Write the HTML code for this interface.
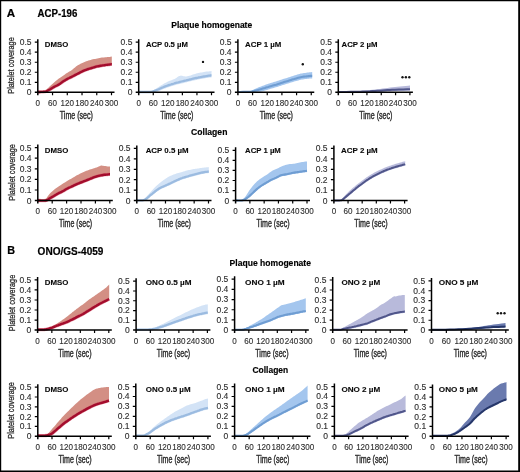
<!DOCTYPE html>
<html><head><meta charset="utf-8"><style>
html,body{margin:0;padding:0;background:#fff;width:520px;height:472px;overflow:hidden}
svg{display:block;will-change:transform}
text{font-family:"Liberation Sans",sans-serif}
</style></head><body>
<svg width="520" height="472" viewBox="0 0 520 472">
<rect width="520" height="472" fill="#fff"/>
<polygon points="37.8,92.0 38.6,92.0 39.7,91.9 40.9,91.9 42.0,91.8 42.8,91.7 43.4,91.7 44.1,91.5 44.9,91.1 45.9,90.3 47.0,89.1 48.2,87.9 49.3,86.7 50.4,85.7 51.5,84.7 52.7,83.7 53.8,82.7 54.9,81.8 56.0,80.8 57.1,80.0 58.2,79.1 59.3,78.3 60.5,77.5 61.6,76.8 62.7,76.0 63.8,75.2 64.9,74.4 66.0,73.6 67.1,72.9 68.2,72.2 69.3,71.6 70.5,70.9 71.6,70.2 72.8,69.3 73.9,68.3 75.0,67.4 76.0,66.6 76.7,66.1 77.2,65.7 77.7,65.3 78.4,64.9 79.4,64.4 80.5,63.8 81.7,63.2 82.9,62.7 84.0,62.2 85.1,61.7 86.2,61.3 87.3,60.9 88.4,60.5 89.5,60.2 90.7,59.9 91.8,59.6 92.9,59.3 94.0,59.1 95.1,58.9 96.2,58.7 97.3,58.5 98.5,58.2 99.6,58.0 100.7,57.8 101.8,57.6 102.9,57.5 104.0,57.4 105.1,57.3 106.3,57.2 107.5,57.1 108.6,57.0 109.6,56.9 110.4,56.8 111.0,56.7 111.5,56.6 111.8,56.5 111.8,64.3 111.5,64.3 111.0,64.4 110.4,64.4 109.6,64.5 108.6,64.6 107.5,64.8 106.3,64.9 105.1,65.1 104.0,65.3 102.9,65.4 101.8,65.6 100.7,65.8 99.6,66.0 98.5,66.2 97.3,66.4 96.2,66.7 95.1,67.0 94.0,67.3 92.9,67.7 91.8,68.0 90.7,68.3 89.5,68.7 88.4,69.0 87.3,69.4 86.2,69.8 85.1,70.2 84.0,70.6 82.9,71.1 81.7,71.7 80.5,72.3 79.4,72.9 78.4,73.4 77.7,73.8 77.2,74.0 76.7,74.2 76.0,74.6 75.0,75.1 73.9,75.7 72.8,76.3 71.6,76.9 70.5,77.4 69.3,78.0 68.2,78.5 67.1,79.1 66.0,79.7 64.9,80.4 63.8,81.1 62.7,81.8 61.6,82.6 60.5,83.4 59.3,84.2 58.2,84.9 57.1,85.5 56.0,86.0 54.9,86.5 53.8,87.1 52.7,87.8 51.5,88.5 50.4,89.2 49.3,89.8 48.3,90.3 47.3,90.8 46.2,91.3 44.9,91.6 43.1,91.7 41.1,91.7 39.1,91.7 37.8,91.7" fill="#d38f84"/>
<polyline points="37.8,92.0 39.1,92.0 41.1,91.9 43.1,91.8 44.9,91.6 46.2,91.3 47.3,90.8 48.3,90.3 49.3,89.8 50.4,89.2 51.5,88.5 52.7,87.8 53.8,87.1 54.9,86.5 56.0,86.0 57.1,85.5 58.2,84.9 59.3,84.2 60.5,83.4 61.6,82.6 62.7,81.8 63.8,81.1 64.9,80.4 66.0,79.7 67.1,79.1 68.2,78.5 69.3,78.0 70.5,77.4 71.6,76.9 72.8,76.3 73.9,75.7 75.0,75.1 76.0,74.6 76.7,74.2 77.2,74.0 77.7,73.8 78.4,73.4 79.4,72.9 80.5,72.3 81.7,71.7 82.9,71.1 84.0,70.6 85.1,70.2 86.2,69.8 87.3,69.4 88.4,69.0 89.5,68.7 90.7,68.3 91.8,68.0 92.9,67.7 94.0,67.3 95.1,67.0 96.2,66.7 97.3,66.4 98.5,66.2 99.6,66.0 100.7,65.8 101.8,65.6 102.9,65.4 104.0,65.3 105.1,65.1 106.3,64.9 107.5,64.8 108.6,64.6 109.6,64.5 110.4,64.4 111.0,64.4 111.5,64.3 111.8,64.3" fill="none" stroke="#d9485f" stroke-width="3.3" stroke-linejoin="round" opacity="0.5"/>
<polyline points="37.8,92.0 39.1,92.0 41.1,91.9 43.1,91.8 44.9,91.6 46.2,91.3 47.3,90.8 48.3,90.3 49.3,89.8 50.4,89.2 51.5,88.5 52.7,87.8 53.8,87.1 54.9,86.5 56.0,86.0 57.1,85.5 58.2,84.9 59.3,84.2 60.5,83.4 61.6,82.6 62.7,81.8 63.8,81.1 64.9,80.4 66.0,79.7 67.1,79.1 68.2,78.5 69.3,78.0 70.5,77.4 71.6,76.9 72.8,76.3 73.9,75.7 75.0,75.1 76.0,74.6 76.7,74.2 77.2,74.0 77.7,73.8 78.4,73.4 79.4,72.9 80.5,72.3 81.7,71.7 82.9,71.1 84.0,70.6 85.1,70.2 86.2,69.8 87.3,69.4 88.4,69.0 89.5,68.7 90.7,68.3 91.8,68.0 92.9,67.7 94.0,67.3 95.1,67.0 96.2,66.7 97.3,66.4 98.5,66.2 99.6,66.0 100.7,65.8 101.8,65.6 102.9,65.4 104.0,65.3 105.1,65.1 106.3,64.9 107.5,64.8 108.6,64.6 109.6,64.5 110.4,64.4 111.0,64.4 111.5,64.3 111.8,64.3" fill="none" stroke="#a30d2d" stroke-width="2.4" stroke-linejoin="round"/>
<path d="M37.80 39.20V95.30M34.80 92.30H114.50" stroke="#000" stroke-width="1.5" fill="none"/>
<path d="M34.80 82.28H37.80M34.80 72.26H37.80M34.80 62.24H37.80M34.80 52.22H37.80M34.80 42.20H37.80M52.54 92.30V95.30M67.28 92.30V95.30M82.02 92.30V95.30M96.76 92.30V95.30M111.50 92.30V95.30" stroke="#000" stroke-width="1.2" fill="none"/>
<text x="31.50" y="95.20" font-size="8.5" fill="#2e2e2e" stroke="#2e2e2e" stroke-width="0.12" text-anchor="end">0</text>
<text x="31.50" y="85.18" font-size="8.5" fill="#2e2e2e" stroke="#2e2e2e" stroke-width="0.12" text-anchor="end">0.1</text>
<text x="31.50" y="75.16" font-size="8.5" fill="#2e2e2e" stroke="#2e2e2e" stroke-width="0.12" text-anchor="end">0.2</text>
<text x="31.50" y="65.14" font-size="8.5" fill="#2e2e2e" stroke="#2e2e2e" stroke-width="0.12" text-anchor="end">0.3</text>
<text x="31.50" y="55.12" font-size="8.5" fill="#2e2e2e" stroke="#2e2e2e" stroke-width="0.12" text-anchor="end">0.4</text>
<text x="31.50" y="45.10" font-size="8.5" fill="#2e2e2e" stroke="#2e2e2e" stroke-width="0.12" text-anchor="end">0.5</text>
<text x="37.80" y="105.70" font-size="8.7" fill="#2e2e2e" stroke="#2e2e2e" stroke-width="0.12" text-anchor="middle" textLength="4.50" lengthAdjust="spacingAndGlyphs">0</text>
<text x="52.54" y="105.70" font-size="8.7" fill="#2e2e2e" stroke="#2e2e2e" stroke-width="0.12" text-anchor="middle" textLength="9.00" lengthAdjust="spacingAndGlyphs">60</text>
<text x="67.28" y="105.70" font-size="8.7" fill="#2e2e2e" stroke="#2e2e2e" stroke-width="0.12" text-anchor="middle" textLength="13.50" lengthAdjust="spacingAndGlyphs">120</text>
<text x="82.02" y="105.70" font-size="8.7" fill="#2e2e2e" stroke="#2e2e2e" stroke-width="0.12" text-anchor="middle" textLength="13.50" lengthAdjust="spacingAndGlyphs">180</text>
<text x="96.76" y="105.70" font-size="8.7" fill="#2e2e2e" stroke="#2e2e2e" stroke-width="0.12" text-anchor="middle" textLength="13.50" lengthAdjust="spacingAndGlyphs">240</text>
<text x="111.50" y="105.70" font-size="8.7" fill="#2e2e2e" stroke="#2e2e2e" stroke-width="0.12" text-anchor="middle" textLength="13.50" lengthAdjust="spacingAndGlyphs">300</text>
<text x="59.75" y="119.10" font-size="10.2" fill="#2e2e2e" stroke="#2e2e2e" stroke-width="0.42" textLength="33.2" lengthAdjust="spacingAndGlyphs">Time (sec)</text>
<text x="44.80" y="46.70" font-size="8" font-weight="bold" fill="#0a0a0a" stroke="#0a0a0a" stroke-width="0.12" textLength="23.4" lengthAdjust="spacingAndGlyphs">DMSO</text>
<polygon points="138.7,92.0 140.5,92.0 143.1,91.9 145.8,91.9 148.0,91.8 149.4,91.7 150.4,91.5 151.2,91.3 152.0,91.0 152.8,90.6 153.6,90.2 154.3,89.8 155.2,89.2 156.2,88.5 157.4,87.8 158.6,87.0 159.7,86.3 160.8,85.6 161.9,84.9 163.0,84.2 164.1,83.6 165.2,83.0 166.3,82.4 167.5,81.8 168.6,81.3 169.7,80.8 170.9,80.4 172.0,80.0 173.0,79.6 173.9,79.2 174.6,78.9 175.3,78.6 176.0,78.2 176.6,77.8 177.2,77.3 177.8,76.8 178.4,76.4 179.0,76.1 179.7,75.9 180.4,75.7 181.0,75.6 181.6,75.7 182.2,75.8 182.8,76.1 183.5,76.2 184.3,76.3 185.3,76.4 186.3,76.4 187.3,76.3 188.4,76.1 189.5,75.7 190.7,75.4 191.8,75.0 192.9,74.6 194.0,74.3 195.1,73.9 196.2,73.6 197.3,73.3 198.4,73.1 199.6,72.8 200.7,72.6 201.8,72.4 202.9,72.2 204.0,72.0 205.1,71.8 206.3,71.6 207.5,71.5 208.7,71.4 209.6,71.3 210.3,71.2 210.8,71.2 211.2,71.1 211.5,71.1 211.5,77.4 211.2,77.4 210.8,77.5 210.3,77.5 209.6,77.6 208.7,77.7 207.5,77.9 206.3,78.1 205.1,78.3 204.0,78.5 202.9,78.7 201.8,78.9 200.7,79.1 199.6,79.3 198.4,79.5 197.3,79.8 196.2,80.0 195.1,80.2 194.0,80.5 192.9,80.7 191.8,81.0 190.7,81.3 189.6,81.5 188.4,81.8 187.3,82.1 186.2,82.4 185.2,82.6 184.1,82.9 182.9,83.2 181.5,83.5 179.9,83.9 178.4,84.3 177.0,84.6 175.9,84.9 174.9,85.2 174.0,85.5 173.0,85.8 171.9,86.1 170.8,86.5 169.7,86.8 168.6,87.2 167.5,87.6 166.3,88.0 165.2,88.4 164.1,88.8 163.0,89.3 161.9,89.7 160.8,90.2 159.7,90.7 158.6,91.2 157.4,91.7 156.2,91.7 155.2,91.7 154.3,91.7 153.4,91.7 152.7,91.7 152.0,91.7 151.6,91.7 151.5,91.7 151.1,91.7 150.0,91.7 147.6,91.7 144.2,91.7 140.9,91.7 138.7,91.7" fill="#d3e3f6"/>
<polyline points="138.7,92.0 140.9,92.0 144.2,92.0 147.6,92.0 150.0,92.0 151.1,92.0 151.5,91.9 151.6,91.8 152.0,91.7 152.7,91.5 153.4,91.2 154.3,91.0 155.2,90.6 156.2,90.2 157.4,89.7 158.6,89.2 159.7,88.7 160.8,88.2 161.9,87.7 163.0,87.3 164.1,86.8 165.2,86.4 166.3,86.0 167.5,85.6 168.6,85.2 169.7,84.8 170.8,84.5 171.9,84.1 173.0,83.8 174.0,83.5 174.9,83.2 175.9,82.9 177.0,82.6 178.4,82.3 179.9,81.9 181.5,81.5 182.9,81.2 184.1,80.9 185.2,80.6 186.2,80.4 187.3,80.1 188.4,79.8 189.6,79.5 190.7,79.3 191.8,79.0 192.9,78.7 194.0,78.5 195.1,78.2 196.2,78.0 197.3,77.8 198.4,77.5 199.6,77.3 200.7,77.1 201.8,76.9 202.9,76.7 204.0,76.5 205.1,76.3 206.3,76.1 207.5,75.9 208.7,75.7 209.6,75.6 210.3,75.5 210.8,75.5 211.2,75.4 211.5,75.4" fill="none" stroke="#9bbbe0" stroke-width="2.3" stroke-linejoin="round"/>
<path d="M138.70 39.20V95.30M135.70 92.30H214.50" stroke="#000" stroke-width="1.5" fill="none"/>
<path d="M135.70 82.28H138.70M135.70 72.26H138.70M135.70 62.24H138.70M135.70 52.22H138.70M135.70 42.20H138.70M153.26 92.30V95.30M167.82 92.30V95.30M182.38 92.30V95.30M196.94 92.30V95.30M211.50 92.30V95.30" stroke="#000" stroke-width="1.2" fill="none"/>
<text x="132.40" y="95.20" font-size="8.5" fill="#2e2e2e" stroke="#2e2e2e" stroke-width="0.12" text-anchor="end">0</text>
<text x="132.40" y="85.18" font-size="8.5" fill="#2e2e2e" stroke="#2e2e2e" stroke-width="0.12" text-anchor="end">0.1</text>
<text x="132.40" y="75.16" font-size="8.5" fill="#2e2e2e" stroke="#2e2e2e" stroke-width="0.12" text-anchor="end">0.2</text>
<text x="132.40" y="65.14" font-size="8.5" fill="#2e2e2e" stroke="#2e2e2e" stroke-width="0.12" text-anchor="end">0.3</text>
<text x="132.40" y="55.12" font-size="8.5" fill="#2e2e2e" stroke="#2e2e2e" stroke-width="0.12" text-anchor="end">0.4</text>
<text x="132.40" y="45.10" font-size="8.5" fill="#2e2e2e" stroke="#2e2e2e" stroke-width="0.12" text-anchor="end">0.5</text>
<text x="138.70" y="105.70" font-size="8.7" fill="#2e2e2e" stroke="#2e2e2e" stroke-width="0.12" text-anchor="middle" textLength="4.50" lengthAdjust="spacingAndGlyphs">0</text>
<text x="153.26" y="105.70" font-size="8.7" fill="#2e2e2e" stroke="#2e2e2e" stroke-width="0.12" text-anchor="middle" textLength="9.00" lengthAdjust="spacingAndGlyphs">60</text>
<text x="167.82" y="105.70" font-size="8.7" fill="#2e2e2e" stroke="#2e2e2e" stroke-width="0.12" text-anchor="middle" textLength="13.50" lengthAdjust="spacingAndGlyphs">120</text>
<text x="182.38" y="105.70" font-size="8.7" fill="#2e2e2e" stroke="#2e2e2e" stroke-width="0.12" text-anchor="middle" textLength="13.50" lengthAdjust="spacingAndGlyphs">180</text>
<text x="196.94" y="105.70" font-size="8.7" fill="#2e2e2e" stroke="#2e2e2e" stroke-width="0.12" text-anchor="middle" textLength="13.50" lengthAdjust="spacingAndGlyphs">240</text>
<text x="211.50" y="105.70" font-size="8.7" fill="#2e2e2e" stroke="#2e2e2e" stroke-width="0.12" text-anchor="middle" textLength="13.50" lengthAdjust="spacingAndGlyphs">300</text>
<text x="160.20" y="119.10" font-size="10.2" fill="#2e2e2e" stroke="#2e2e2e" stroke-width="0.42" textLength="33.2" lengthAdjust="spacingAndGlyphs">Time (sec)</text>
<text x="145.90" y="46.70" font-size="8" font-weight="bold" fill="#0a0a0a" stroke="#0a0a0a" stroke-width="0.12" textLength="42.0" lengthAdjust="spacingAndGlyphs">ACP 0.5 µM</text>
<polygon points="237.9,92.0 239.2,92.0 241.2,92.0 243.3,92.0 245.0,91.9 246.3,91.8 247.3,91.8 248.3,91.6 249.3,91.4 250.4,91.0 251.5,90.5 252.7,89.9 253.8,89.4 254.9,88.9 256.0,88.5 257.1,88.0 258.2,87.6 259.3,87.1 260.4,86.7 261.6,86.2 262.7,85.8 263.8,85.4 264.9,85.0 266.0,84.6 267.1,84.2 268.2,83.8 269.4,83.4 270.5,83.1 271.6,82.7 272.7,82.4 273.8,82.0 274.9,81.7 276.0,81.4 277.0,81.1 278.0,80.8 279.0,80.4 280.0,80.1 281.0,79.8 282.0,79.4 283.0,79.1 284.0,78.8 285.0,78.5 286.0,78.2 287.0,77.9 288.0,77.6 289.0,77.3 290.0,77.0 291.0,76.6 292.0,76.3 293.0,76.0 294.1,75.6 295.1,75.2 296.2,74.9 297.3,74.6 298.4,74.2 299.6,73.9 300.7,73.6 301.8,73.4 302.9,73.2 304.0,73.1 305.1,72.9 306.3,72.7 307.5,72.6 308.6,72.4 309.6,72.3 310.4,72.2 311.2,72.2 311.8,72.1 312.2,72.1 312.2,78.5 311.8,78.5 311.2,78.5 310.4,78.5 309.6,78.6 308.6,78.7 307.5,78.8 306.3,79.0 305.1,79.1 304.0,79.2 302.9,79.4 301.8,79.6 300.7,79.8 299.6,80.1 298.4,80.4 297.3,80.7 296.2,81.0 295.1,81.3 294.1,81.6 293.0,81.9 292.0,82.2 291.0,82.5 290.0,82.8 289.0,83.2 288.0,83.5 287.0,83.8 286.0,84.1 285.0,84.4 284.0,84.7 283.0,85.0 282.0,85.3 281.0,85.7 280.0,86.0 279.0,86.3 278.0,86.7 277.0,87.0 276.0,87.3 274.9,87.6 273.8,87.9 272.7,88.2 271.6,88.5 270.5,88.8 269.4,89.2 268.2,89.6 267.1,89.9 266.0,90.2 264.9,90.6 263.8,90.9 262.7,91.2 261.6,91.5 260.4,91.7 259.3,91.7 258.2,91.7 257.1,91.7 256.0,91.7 254.9,91.7 253.8,91.7 252.8,91.7 252.0,91.7 250.9,91.7 249.3,91.7 246.7,91.7 243.3,91.7 240.1,91.7 237.9,91.7" fill="#a4c6ee"/>
<polyline points="237.9,92.0 240.1,92.0 243.3,91.9 246.7,91.9 249.3,91.8 250.9,91.7 252.0,91.5 252.8,91.3 253.8,91.1 254.9,90.8 256.0,90.5 257.1,90.2 258.2,89.9 259.3,89.6 260.4,89.3 261.6,88.9 262.7,88.6 263.8,88.3 264.9,88.0 266.0,87.6 267.1,87.3 268.2,87.0 269.4,86.6 270.5,86.2 271.6,85.9 272.7,85.6 273.8,85.3 274.9,85.0 276.0,84.7 277.0,84.4 278.0,84.1 279.0,83.7 280.0,83.4 281.0,83.1 282.0,82.7 283.0,82.4 284.0,82.1 285.0,81.8 286.0,81.5 287.0,81.2 288.0,80.9 289.0,80.6 290.0,80.2 291.0,79.9 292.0,79.6 293.0,79.3 294.1,79.0 295.1,78.7 296.2,78.4 297.3,78.1 298.4,77.8 299.6,77.5 300.7,77.2 301.8,77.0 302.9,76.8 304.0,76.6 305.1,76.5 306.3,76.4 307.5,76.2 308.6,76.1 309.6,76.0 310.4,75.9 311.2,75.9 311.8,75.9 312.2,75.9" fill="none" stroke="#6f9dd2" stroke-width="2.1" stroke-linejoin="round"/>
<path d="M237.90 39.20V95.30M234.90 92.30H314.25" stroke="#000" stroke-width="1.5" fill="none"/>
<path d="M234.90 82.28H237.90M234.90 72.26H237.90M234.90 62.24H237.90M234.90 52.22H237.90M234.90 42.20H237.90M252.57 92.30V95.30M267.24 92.30V95.30M281.91 92.30V95.30M296.58 92.30V95.30M311.25 92.30V95.30" stroke="#000" stroke-width="1.2" fill="none"/>
<text x="231.60" y="95.20" font-size="8.5" fill="#2e2e2e" stroke="#2e2e2e" stroke-width="0.12" text-anchor="end">0</text>
<text x="231.60" y="85.18" font-size="8.5" fill="#2e2e2e" stroke="#2e2e2e" stroke-width="0.12" text-anchor="end">0.1</text>
<text x="231.60" y="75.16" font-size="8.5" fill="#2e2e2e" stroke="#2e2e2e" stroke-width="0.12" text-anchor="end">0.2</text>
<text x="231.60" y="65.14" font-size="8.5" fill="#2e2e2e" stroke="#2e2e2e" stroke-width="0.12" text-anchor="end">0.3</text>
<text x="231.60" y="55.12" font-size="8.5" fill="#2e2e2e" stroke="#2e2e2e" stroke-width="0.12" text-anchor="end">0.4</text>
<text x="231.60" y="45.10" font-size="8.5" fill="#2e2e2e" stroke="#2e2e2e" stroke-width="0.12" text-anchor="end">0.5</text>
<text x="237.90" y="105.70" font-size="8.7" fill="#2e2e2e" stroke="#2e2e2e" stroke-width="0.12" text-anchor="middle" textLength="4.50" lengthAdjust="spacingAndGlyphs">0</text>
<text x="252.57" y="105.70" font-size="8.7" fill="#2e2e2e" stroke="#2e2e2e" stroke-width="0.12" text-anchor="middle" textLength="9.00" lengthAdjust="spacingAndGlyphs">60</text>
<text x="267.24" y="105.70" font-size="8.7" fill="#2e2e2e" stroke="#2e2e2e" stroke-width="0.12" text-anchor="middle" textLength="13.50" lengthAdjust="spacingAndGlyphs">120</text>
<text x="281.91" y="105.70" font-size="8.7" fill="#2e2e2e" stroke="#2e2e2e" stroke-width="0.12" text-anchor="middle" textLength="13.50" lengthAdjust="spacingAndGlyphs">180</text>
<text x="296.58" y="105.70" font-size="8.7" fill="#2e2e2e" stroke="#2e2e2e" stroke-width="0.12" text-anchor="middle" textLength="13.50" lengthAdjust="spacingAndGlyphs">240</text>
<text x="311.25" y="105.70" font-size="8.7" fill="#2e2e2e" stroke="#2e2e2e" stroke-width="0.12" text-anchor="middle" textLength="13.50" lengthAdjust="spacingAndGlyphs">300</text>
<text x="259.68" y="119.10" font-size="10.2" fill="#2e2e2e" stroke="#2e2e2e" stroke-width="0.42" textLength="33.2" lengthAdjust="spacingAndGlyphs">Time (sec)</text>
<text x="245.10" y="46.70" font-size="8" font-weight="bold" fill="#0a0a0a" stroke="#0a0a0a" stroke-width="0.12" textLength="36.3" lengthAdjust="spacingAndGlyphs">ACP 1 µM</text>
<polygon points="338.3,91.9 340.4,91.8 343.5,91.7 346.9,91.6 350.0,91.5 352.6,91.4 355.1,91.2 357.5,91.1 360.0,90.9 362.5,90.7 365.0,90.5 367.5,90.2 370.0,90.0 372.5,89.7 375.0,89.5 377.5,89.2 380.0,88.9 382.5,88.6 385.0,88.3 387.5,87.9 390.0,87.6 392.5,87.3 395.0,87.0 397.5,86.8 400.0,86.5 402.7,86.2 405.6,86.0 408.2,85.8 410.0,85.6 410.0,90.6 407.2,90.7 403.1,90.8 398.8,91.0 395.0,91.1 392.1,91.2 389.7,91.4 387.4,91.5 385.0,91.7 382.5,91.7 380.0,91.7 377.5,91.7 375.0,91.7 372.5,91.7 370.0,91.7 367.5,91.7 365.0,91.7 362.7,91.7 360.4,91.7 358.0,91.7 355.0,91.7 350.9,91.7 346.0,91.7 341.5,91.7 338.3,91.7" fill="#b8badb"/>
<polyline points="338.3,91.9 341.5,91.9 346.0,91.9 350.9,91.8 355.0,91.8 358.0,91.7 360.4,91.7 362.7,91.6 365.0,91.5 367.5,91.4 370.0,91.3 372.5,91.1 375.0,91.0 377.5,90.8 380.0,90.7 382.5,90.5 385.0,90.3 387.4,90.1 389.7,90.0 392.1,89.8 395.0,89.7 398.8,89.6 403.1,89.4 407.2,89.3 410.0,89.2" fill="none" stroke="#50568a" stroke-width="2.0" stroke-linejoin="round"/>
<path d="M338.30 39.20V95.30M335.30 92.30H412.90" stroke="#000" stroke-width="1.5" fill="none"/>
<path d="M335.30 82.28H338.30M335.30 72.26H338.30M335.30 62.24H338.30M335.30 52.22H338.30M335.30 42.20H338.30M352.62 92.30V95.30M366.94 92.30V95.30M381.26 92.30V95.30M395.58 92.30V95.30M409.90 92.30V95.30" stroke="#000" stroke-width="1.2" fill="none"/>
<text x="332.00" y="95.20" font-size="8.5" fill="#2e2e2e" stroke="#2e2e2e" stroke-width="0.12" text-anchor="end">0</text>
<text x="332.00" y="85.18" font-size="8.5" fill="#2e2e2e" stroke="#2e2e2e" stroke-width="0.12" text-anchor="end">0.1</text>
<text x="332.00" y="75.16" font-size="8.5" fill="#2e2e2e" stroke="#2e2e2e" stroke-width="0.12" text-anchor="end">0.2</text>
<text x="332.00" y="65.14" font-size="8.5" fill="#2e2e2e" stroke="#2e2e2e" stroke-width="0.12" text-anchor="end">0.3</text>
<text x="332.00" y="55.12" font-size="8.5" fill="#2e2e2e" stroke="#2e2e2e" stroke-width="0.12" text-anchor="end">0.4</text>
<text x="332.00" y="45.10" font-size="8.5" fill="#2e2e2e" stroke="#2e2e2e" stroke-width="0.12" text-anchor="end">0.5</text>
<text x="338.30" y="105.70" font-size="8.7" fill="#2e2e2e" stroke="#2e2e2e" stroke-width="0.12" text-anchor="middle" textLength="4.50" lengthAdjust="spacingAndGlyphs">0</text>
<text x="352.62" y="105.70" font-size="8.7" fill="#2e2e2e" stroke="#2e2e2e" stroke-width="0.12" text-anchor="middle" textLength="9.00" lengthAdjust="spacingAndGlyphs">60</text>
<text x="366.94" y="105.70" font-size="8.7" fill="#2e2e2e" stroke="#2e2e2e" stroke-width="0.12" text-anchor="middle" textLength="13.50" lengthAdjust="spacingAndGlyphs">120</text>
<text x="381.26" y="105.70" font-size="8.7" fill="#2e2e2e" stroke="#2e2e2e" stroke-width="0.12" text-anchor="middle" textLength="13.50" lengthAdjust="spacingAndGlyphs">180</text>
<text x="395.58" y="105.70" font-size="8.7" fill="#2e2e2e" stroke="#2e2e2e" stroke-width="0.12" text-anchor="middle" textLength="13.50" lengthAdjust="spacingAndGlyphs">240</text>
<text x="409.90" y="105.70" font-size="8.7" fill="#2e2e2e" stroke="#2e2e2e" stroke-width="0.12" text-anchor="middle" textLength="13.50" lengthAdjust="spacingAndGlyphs">300</text>
<text x="359.20" y="119.10" font-size="10.2" fill="#2e2e2e" stroke="#2e2e2e" stroke-width="0.42" textLength="33.2" lengthAdjust="spacingAndGlyphs">Time (sec)</text>
<text x="341.60" y="46.70" font-size="8" font-weight="bold" fill="#0a0a0a" stroke="#0a0a0a" stroke-width="0.12" textLength="36.0" lengthAdjust="spacingAndGlyphs">ACP 2 µM</text>
<text transform="translate(14.30 65.50) rotate(-90)" font-size="9" fill="#2e2e2e" stroke="#2e2e2e" stroke-width="0.3" text-anchor="middle" textLength="56.5" lengthAdjust="spacingAndGlyphs">Platelet coverage</text>
<polygon points="37.8,200.5 38.8,200.5 40.2,200.4 41.7,200.4 43.0,200.2 43.9,200.0 44.5,199.8 45.1,199.4 45.8,198.8 46.6,197.9 47.4,196.7 48.3,195.4 49.3,194.2 50.4,193.1 51.5,192.0 52.7,191.0 53.8,190.0 54.9,189.1 56.0,188.3 57.1,187.6 58.2,186.8 59.3,186.0 60.5,185.3 61.6,184.5 62.7,183.8 63.8,183.1 64.9,182.4 66.0,181.7 67.1,181.0 68.3,180.3 69.5,179.6 70.8,179.0 72.0,178.3 73.1,177.6 74.2,176.9 75.3,176.2 76.4,175.6 77.5,175.0 78.7,174.4 79.8,173.8 80.9,173.3 82.0,172.8 83.1,172.3 84.2,171.8 85.3,171.3 86.4,170.8 87.5,170.4 88.7,170.0 89.8,169.6 90.9,169.2 92.0,168.9 93.1,168.6 94.2,168.2 95.4,167.8 96.6,167.4 97.7,167.0 98.7,166.6 99.4,166.3 100.0,166.0 100.5,165.8 101.0,165.6 101.5,165.6 101.9,165.6 102.4,165.7 103.1,165.8 104.1,165.9 105.3,166.1 106.6,166.3 107.6,166.4 108.4,166.5 109.1,166.5 109.6,166.6 110.0,166.6 110.0,174.3 109.6,174.3 109.1,174.4 108.4,174.4 107.6,174.5 106.6,174.6 105.5,174.7 104.3,174.8 103.1,175.0 102.0,175.2 100.9,175.4 99.8,175.6 98.7,175.9 97.6,176.2 96.5,176.5 95.3,176.8 94.2,177.2 93.1,177.6 92.0,178.1 90.9,178.5 89.8,179.0 88.7,179.5 87.5,179.9 86.4,180.4 85.3,180.8 84.2,181.2 83.1,181.7 82.0,182.1 80.9,182.5 79.8,182.9 78.7,183.4 77.5,183.8 76.4,184.3 75.3,184.8 74.2,185.3 73.1,185.9 72.0,186.4 70.8,187.0 69.5,187.5 68.3,188.1 67.1,188.7 66.0,189.3 64.9,190.0 63.8,190.7 62.7,191.3 61.6,191.9 60.5,192.4 59.3,192.9 58.2,193.5 57.1,194.1 56.0,194.8 54.9,195.4 53.8,196.1 52.7,196.7 51.5,197.4 50.4,198.0 49.3,198.6 48.5,199.2 47.8,199.7 47.0,200.0 45.8,200.0 43.9,200.0 41.6,200.0 39.3,200.0 37.8,200.0" fill="#d38f84"/>
<polyline points="37.8,200.5 39.3,200.5 41.6,200.6 43.9,200.6 45.8,200.5 47.0,200.2 47.8,199.7 48.5,199.2 49.3,198.6 50.4,198.0 51.5,197.4 52.7,196.7 53.8,196.1 54.9,195.4 56.0,194.8 57.1,194.1 58.2,193.5 59.3,192.9 60.5,192.4 61.6,191.9 62.7,191.3 63.8,190.7 64.9,190.0 66.0,189.3 67.1,188.7 68.3,188.1 69.5,187.5 70.8,187.0 72.0,186.4 73.1,185.9 74.2,185.3 75.3,184.8 76.4,184.3 77.5,183.8 78.7,183.4 79.8,182.9 80.9,182.5 82.0,182.1 83.1,181.7 84.2,181.2 85.3,180.8 86.4,180.4 87.5,179.9 88.7,179.5 89.8,179.0 90.9,178.5 92.0,178.1 93.1,177.6 94.2,177.2 95.3,176.8 96.5,176.5 97.6,176.2 98.7,175.9 99.8,175.6 100.9,175.4 102.0,175.2 103.1,175.0 104.3,174.8 105.5,174.7 106.6,174.6 107.6,174.5 108.4,174.4 109.1,174.4 109.6,174.3 110.0,174.3" fill="none" stroke="#d9485f" stroke-width="3.3" stroke-linejoin="round" opacity="0.5"/>
<polyline points="37.8,200.5 39.3,200.5 41.6,200.6 43.9,200.6 45.8,200.5 47.0,200.2 47.8,199.7 48.5,199.2 49.3,198.6 50.4,198.0 51.5,197.4 52.7,196.7 53.8,196.1 54.9,195.4 56.0,194.8 57.1,194.1 58.2,193.5 59.3,192.9 60.5,192.4 61.6,191.9 62.7,191.3 63.8,190.7 64.9,190.0 66.0,189.3 67.1,188.7 68.3,188.1 69.5,187.5 70.8,187.0 72.0,186.4 73.1,185.9 74.2,185.3 75.3,184.8 76.4,184.3 77.5,183.8 78.7,183.4 79.8,182.9 80.9,182.5 82.0,182.1 83.1,181.7 84.2,181.2 85.3,180.8 86.4,180.4 87.5,179.9 88.7,179.5 89.8,179.0 90.9,178.5 92.0,178.1 93.1,177.6 94.2,177.2 95.3,176.8 96.5,176.5 97.6,176.2 98.7,175.9 99.8,175.6 100.9,175.4 102.0,175.2 103.1,175.0 104.3,174.8 105.5,174.7 106.6,174.6 107.6,174.5 108.4,174.4 109.1,174.4 109.6,174.3 110.0,174.3" fill="none" stroke="#a30d2d" stroke-width="2.4" stroke-linejoin="round"/>
<path d="M37.80 144.60V203.60M34.80 200.60H112.80" stroke="#000" stroke-width="1.5" fill="none"/>
<path d="M34.80 190.00H37.80M34.80 179.40H37.80M34.80 168.80H37.80M34.80 158.20H37.80M34.80 147.60H37.80M52.20 200.60V203.60M66.60 200.60V203.60M81.00 200.60V203.60M95.40 200.60V203.60M109.80 200.60V203.60" stroke="#000" stroke-width="1.2" fill="none"/>
<text x="31.50" y="203.50" font-size="8.5" fill="#2e2e2e" stroke="#2e2e2e" stroke-width="0.12" text-anchor="end">0</text>
<text x="31.50" y="192.90" font-size="8.5" fill="#2e2e2e" stroke="#2e2e2e" stroke-width="0.12" text-anchor="end">0.1</text>
<text x="31.50" y="182.30" font-size="8.5" fill="#2e2e2e" stroke="#2e2e2e" stroke-width="0.12" text-anchor="end">0.2</text>
<text x="31.50" y="171.70" font-size="8.5" fill="#2e2e2e" stroke="#2e2e2e" stroke-width="0.12" text-anchor="end">0.3</text>
<text x="31.50" y="161.10" font-size="8.5" fill="#2e2e2e" stroke="#2e2e2e" stroke-width="0.12" text-anchor="end">0.4</text>
<text x="31.50" y="150.50" font-size="8.5" fill="#2e2e2e" stroke="#2e2e2e" stroke-width="0.12" text-anchor="end">0.5</text>
<text x="37.80" y="214.00" font-size="8.7" fill="#2e2e2e" stroke="#2e2e2e" stroke-width="0.12" text-anchor="middle" textLength="4.50" lengthAdjust="spacingAndGlyphs">0</text>
<text x="52.20" y="214.00" font-size="8.7" fill="#2e2e2e" stroke="#2e2e2e" stroke-width="0.12" text-anchor="middle" textLength="9.00" lengthAdjust="spacingAndGlyphs">60</text>
<text x="66.60" y="214.00" font-size="8.7" fill="#2e2e2e" stroke="#2e2e2e" stroke-width="0.12" text-anchor="middle" textLength="13.50" lengthAdjust="spacingAndGlyphs">120</text>
<text x="81.00" y="214.00" font-size="8.7" fill="#2e2e2e" stroke="#2e2e2e" stroke-width="0.12" text-anchor="middle" textLength="13.50" lengthAdjust="spacingAndGlyphs">180</text>
<text x="95.40" y="214.00" font-size="8.7" fill="#2e2e2e" stroke="#2e2e2e" stroke-width="0.12" text-anchor="middle" textLength="13.50" lengthAdjust="spacingAndGlyphs">240</text>
<text x="109.80" y="214.00" font-size="8.7" fill="#2e2e2e" stroke="#2e2e2e" stroke-width="0.12" text-anchor="middle" textLength="13.50" lengthAdjust="spacingAndGlyphs">300</text>
<text x="58.90" y="227.40" font-size="10.2" fill="#2e2e2e" stroke="#2e2e2e" stroke-width="0.42" textLength="33.2" lengthAdjust="spacingAndGlyphs">Time (sec)</text>
<text x="44.80" y="152.70" font-size="8" font-weight="bold" fill="#0a0a0a" stroke="#0a0a0a" stroke-width="0.12" textLength="23.5" lengthAdjust="spacingAndGlyphs">DMSO</text>
<polygon points="136.8,200.4 137.5,200.4 138.4,200.4 139.5,200.3 140.5,200.2 141.4,200.0 142.4,199.8 143.3,199.4 144.2,199.0 144.9,198.4 145.6,197.7 146.3,196.8 147.0,196.0 147.8,195.1 148.7,194.2 149.5,193.2 150.4,192.2 151.3,191.2 152.2,190.2 153.1,189.2 154.0,188.2 155.0,187.2 156.0,186.2 157.1,185.3 158.1,184.4 159.1,183.6 160.1,182.8 161.0,182.0 162.0,181.3 163.0,180.6 163.9,179.8 164.9,179.2 165.8,178.5 166.7,177.9 167.7,177.3 168.6,176.8 169.6,176.3 170.6,175.8 171.5,175.4 172.5,175.0 173.5,174.6 174.5,174.2 175.4,173.9 176.3,173.6 177.3,173.3 178.3,173.0 179.3,172.7 180.2,172.5 181.2,172.2 182.2,171.9 183.1,171.6 184.1,171.4 185.0,171.1 185.9,170.8 186.9,170.6 187.8,170.3 188.8,170.1 189.8,169.9 190.8,169.7 191.7,169.5 192.7,169.3 193.7,169.1 194.6,169.0 195.5,168.8 196.5,168.7 197.5,168.5 198.4,168.4 199.4,168.2 200.4,168.1 201.3,168.0 202.3,167.8 203.2,167.7 204.2,167.6 205.4,167.5 206.7,167.3 208.0,167.2 208.8,167.1 208.8,173.1 208.0,173.2 206.7,173.3 205.4,173.5 204.2,173.7 203.2,173.9 202.3,174.1 201.3,174.3 200.4,174.5 199.4,174.7 198.4,174.9 197.5,175.2 196.5,175.4 195.5,175.7 194.6,175.9 193.7,176.2 192.7,176.5 191.7,176.8 190.8,177.0 189.8,177.3 188.8,177.6 187.8,177.9 186.9,178.1 185.9,178.4 185.0,178.7 184.1,179.0 183.1,179.3 182.2,179.6 181.2,179.9 180.2,180.3 179.3,180.7 178.3,181.2 177.3,181.6 176.3,182.0 175.4,182.5 174.5,182.9 173.5,183.4 172.5,183.8 171.5,184.3 170.6,184.8 169.6,185.2 168.6,185.7 167.7,186.1 166.7,186.6 165.8,187.0 164.9,187.4 163.9,187.8 163.0,188.2 162.0,188.6 161.0,189.1 160.1,189.6 159.1,190.2 158.1,190.8 157.1,191.5 156.0,192.3 155.0,193.1 154.0,193.9 153.1,194.6 152.2,195.4 151.3,196.1 150.4,196.8 149.5,197.6 148.6,198.4 147.8,199.1 147.0,199.8 146.3,200.0 145.7,200.0 145.1,200.0 144.5,200.0 144.1,200.0 143.7,200.0 143.2,200.0 142.5,200.0 141.2,200.0 139.5,200.0 137.9,200.0 136.8,200.0" fill="#d3e3f6"/>
<polyline points="136.8,200.4 137.9,200.4 139.5,200.4 141.2,200.4 142.5,200.3 143.2,200.2 143.7,200.1 144.1,200.0 144.5,199.8 145.1,199.5 145.7,199.2 146.3,198.7 147.0,198.2 147.8,197.5 148.6,196.8 149.5,196.0 150.4,195.2 151.3,194.5 152.2,193.8 153.1,193.0 154.0,192.3 155.0,191.5 156.0,190.7 157.1,189.9 158.1,189.2 159.1,188.6 160.1,188.0 161.0,187.5 162.0,187.0 163.0,186.6 163.9,186.2 164.9,185.8 165.8,185.4 166.7,185.0 167.7,184.5 168.6,184.1 169.6,183.6 170.6,183.2 171.5,182.7 172.5,182.2 173.5,181.8 174.5,181.3 175.4,180.9 176.3,180.4 177.3,180.0 178.3,179.6 179.3,179.1 180.2,178.7 181.2,178.3 182.2,178.0 183.1,177.7 184.1,177.4 185.0,177.1 185.9,176.8 186.9,176.5 187.8,176.3 188.8,176.0 189.8,175.7 190.8,175.4 191.7,175.2 192.7,174.9 193.7,174.6 194.6,174.3 195.5,174.1 196.5,173.8 197.5,173.6 198.4,173.3 199.4,173.1 200.4,172.9 201.3,172.7 202.3,172.5 203.2,172.3 204.2,172.1 205.4,171.9 206.7,171.8 208.0,171.6 208.8,171.5" fill="none" stroke="#9bbbe0" stroke-width="2.3" stroke-linejoin="round"/>
<path d="M136.80 145.40V203.60M133.80 200.60H211.50" stroke="#000" stroke-width="1.5" fill="none"/>
<path d="M133.80 190.16H136.80M133.80 179.72H136.80M133.80 169.28H136.80M133.80 158.84H136.80M133.80 148.40H136.80M151.14 200.60V203.60M165.48 200.60V203.60M179.82 200.60V203.60M194.16 200.60V203.60M208.50 200.60V203.60" stroke="#000" stroke-width="1.2" fill="none"/>
<text x="130.50" y="203.50" font-size="8.5" fill="#2e2e2e" stroke="#2e2e2e" stroke-width="0.12" text-anchor="end">0</text>
<text x="130.50" y="193.06" font-size="8.5" fill="#2e2e2e" stroke="#2e2e2e" stroke-width="0.12" text-anchor="end">0.1</text>
<text x="130.50" y="182.62" font-size="8.5" fill="#2e2e2e" stroke="#2e2e2e" stroke-width="0.12" text-anchor="end">0.2</text>
<text x="130.50" y="172.18" font-size="8.5" fill="#2e2e2e" stroke="#2e2e2e" stroke-width="0.12" text-anchor="end">0.3</text>
<text x="130.50" y="161.74" font-size="8.5" fill="#2e2e2e" stroke="#2e2e2e" stroke-width="0.12" text-anchor="end">0.4</text>
<text x="130.50" y="151.30" font-size="8.5" fill="#2e2e2e" stroke="#2e2e2e" stroke-width="0.12" text-anchor="end">0.5</text>
<text x="136.80" y="214.00" font-size="8.7" fill="#2e2e2e" stroke="#2e2e2e" stroke-width="0.12" text-anchor="middle" textLength="4.50" lengthAdjust="spacingAndGlyphs">0</text>
<text x="151.14" y="214.00" font-size="8.7" fill="#2e2e2e" stroke="#2e2e2e" stroke-width="0.12" text-anchor="middle" textLength="9.00" lengthAdjust="spacingAndGlyphs">60</text>
<text x="165.48" y="214.00" font-size="8.7" fill="#2e2e2e" stroke="#2e2e2e" stroke-width="0.12" text-anchor="middle" textLength="13.50" lengthAdjust="spacingAndGlyphs">120</text>
<text x="179.82" y="214.00" font-size="8.7" fill="#2e2e2e" stroke="#2e2e2e" stroke-width="0.12" text-anchor="middle" textLength="13.50" lengthAdjust="spacingAndGlyphs">180</text>
<text x="194.16" y="214.00" font-size="8.7" fill="#2e2e2e" stroke="#2e2e2e" stroke-width="0.12" text-anchor="middle" textLength="13.50" lengthAdjust="spacingAndGlyphs">240</text>
<text x="208.50" y="214.00" font-size="8.7" fill="#2e2e2e" stroke="#2e2e2e" stroke-width="0.12" text-anchor="middle" textLength="13.50" lengthAdjust="spacingAndGlyphs">300</text>
<text x="157.75" y="227.40" font-size="10.2" fill="#2e2e2e" stroke="#2e2e2e" stroke-width="0.42" textLength="33.2" lengthAdjust="spacingAndGlyphs">Time (sec)</text>
<text x="145.70" y="152.70" font-size="8" font-weight="bold" fill="#0a0a0a" stroke="#0a0a0a" stroke-width="0.12" textLength="42.9" lengthAdjust="spacingAndGlyphs">ACP 0.5 µM</text>
<polygon points="235.6,200.4 236.6,200.4 238.1,200.4 239.6,200.3 241.0,200.0 242.1,199.6 243.0,199.0 243.9,198.2 244.9,197.2 246.0,195.7 247.1,194.0 248.2,192.2 249.3,190.5 250.4,188.9 251.6,187.5 252.7,186.1 253.8,184.8 254.9,183.5 256.0,182.4 257.1,181.3 258.2,180.4 259.3,179.5 260.4,178.7 261.6,177.9 262.7,177.2 263.8,176.5 264.9,175.8 266.0,175.2 267.1,174.5 268.2,173.7 269.3,172.8 270.5,172.0 271.6,171.2 272.7,170.6 273.9,170.1 275.0,169.5 276.2,169.0 277.4,168.4 278.6,167.9 279.7,167.3 280.9,166.8 282.0,166.3 283.1,165.8 284.2,165.4 285.3,165.0 286.4,164.7 287.6,164.5 288.7,164.3 289.8,164.1 290.9,164.0 292.0,163.9 293.1,163.8 294.2,163.7 295.3,163.5 296.4,163.3 297.6,163.0 298.7,162.8 299.8,162.6 300.9,162.3 302.0,162.1 303.1,161.9 304.2,161.8 305.3,161.6 306.3,161.6 307.0,161.5 307.0,172.1 306.3,172.2 305.3,172.3 304.2,172.4 303.1,172.6 302.0,172.8 300.9,172.9 299.8,173.1 298.7,173.3 297.6,173.4 296.4,173.6 295.3,173.7 294.2,173.9 293.1,174.1 292.0,174.3 290.9,174.6 289.8,174.8 288.7,175.0 287.6,175.3 286.4,175.5 285.3,175.8 284.2,175.9 283.1,176.1 282.0,176.3 280.9,176.6 279.7,177.1 278.6,177.7 277.4,178.3 276.2,178.9 275.0,179.4 273.9,179.9 272.7,180.4 271.6,180.9 270.5,181.5 269.3,182.2 268.2,182.9 267.1,183.5 266.0,184.2 264.9,184.8 263.8,185.4 262.7,186.1 261.6,186.8 260.4,187.6 259.3,188.4 258.2,189.3 257.1,190.2 256.0,191.2 254.9,192.2 253.8,193.2 252.7,194.3 251.6,195.3 250.4,196.4 249.3,197.4 248.2,198.3 247.0,199.2 245.9,200.0 244.9,200.0 244.2,200.0 243.6,200.0 242.9,200.0 242.0,200.0 240.5,200.0 238.6,200.0 236.8,200.0 235.6,200.0" fill="#a4c6ee"/>
<polyline points="235.6,200.4 236.8,200.4 238.6,200.5 240.5,200.5 242.0,200.4 242.9,200.3 243.6,200.1 244.2,199.8 244.9,199.3 245.9,198.7 247.0,197.9 248.2,197.0 249.3,196.1 250.4,195.1 251.6,194.0 252.7,193.0 253.8,191.9 254.9,190.9 256.0,189.9 257.1,188.9 258.2,188.0 259.3,187.1 260.4,186.3 261.6,185.5 262.7,184.8 263.8,184.1 264.9,183.5 266.0,182.9 267.1,182.2 268.2,181.6 269.3,180.9 270.5,180.2 271.6,179.6 272.7,179.1 273.9,178.6 275.0,178.1 276.2,177.6 277.4,177.0 278.6,176.4 279.7,175.8 280.9,175.3 282.0,175.0 283.1,174.8 284.2,174.6 285.3,174.4 286.4,174.2 287.6,174.0 288.7,173.7 289.8,173.5 290.9,173.3 292.0,173.0 293.1,172.8 294.2,172.6 295.3,172.4 296.4,172.3 297.6,172.1 298.7,172.0 299.8,171.8 300.9,171.6 302.0,171.5 303.1,171.3 304.2,171.1 305.3,171.0 306.3,170.9 307.0,170.8" fill="none" stroke="#6f9dd2" stroke-width="2.1" stroke-linejoin="round"/>
<path d="M235.60 147.30V203.60M232.60 200.60H310.00" stroke="#000" stroke-width="1.5" fill="none"/>
<path d="M232.60 190.54H235.60M232.60 180.48H235.60M232.60 170.42H235.60M232.60 160.36H235.60M232.60 150.30H235.60M249.88 200.60V203.60M264.16 200.60V203.60M278.44 200.60V203.60M292.72 200.60V203.60M307.00 200.60V203.60" stroke="#000" stroke-width="1.2" fill="none"/>
<text x="229.30" y="203.50" font-size="8.5" fill="#2e2e2e" stroke="#2e2e2e" stroke-width="0.12" text-anchor="end">0</text>
<text x="229.30" y="193.44" font-size="8.5" fill="#2e2e2e" stroke="#2e2e2e" stroke-width="0.12" text-anchor="end">0.1</text>
<text x="229.30" y="183.38" font-size="8.5" fill="#2e2e2e" stroke="#2e2e2e" stroke-width="0.12" text-anchor="end">0.2</text>
<text x="229.30" y="173.32" font-size="8.5" fill="#2e2e2e" stroke="#2e2e2e" stroke-width="0.12" text-anchor="end">0.3</text>
<text x="229.30" y="163.26" font-size="8.5" fill="#2e2e2e" stroke="#2e2e2e" stroke-width="0.12" text-anchor="end">0.4</text>
<text x="229.30" y="153.20" font-size="8.5" fill="#2e2e2e" stroke="#2e2e2e" stroke-width="0.12" text-anchor="end">0.5</text>
<text x="235.60" y="214.00" font-size="8.7" fill="#2e2e2e" stroke="#2e2e2e" stroke-width="0.12" text-anchor="middle" textLength="4.50" lengthAdjust="spacingAndGlyphs">0</text>
<text x="249.88" y="214.00" font-size="8.7" fill="#2e2e2e" stroke="#2e2e2e" stroke-width="0.12" text-anchor="middle" textLength="9.00" lengthAdjust="spacingAndGlyphs">60</text>
<text x="264.16" y="214.00" font-size="8.7" fill="#2e2e2e" stroke="#2e2e2e" stroke-width="0.12" text-anchor="middle" textLength="13.50" lengthAdjust="spacingAndGlyphs">120</text>
<text x="278.44" y="214.00" font-size="8.7" fill="#2e2e2e" stroke="#2e2e2e" stroke-width="0.12" text-anchor="middle" textLength="13.50" lengthAdjust="spacingAndGlyphs">180</text>
<text x="292.72" y="214.00" font-size="8.7" fill="#2e2e2e" stroke="#2e2e2e" stroke-width="0.12" text-anchor="middle" textLength="13.50" lengthAdjust="spacingAndGlyphs">240</text>
<text x="307.00" y="214.00" font-size="8.7" fill="#2e2e2e" stroke="#2e2e2e" stroke-width="0.12" text-anchor="middle" textLength="13.50" lengthAdjust="spacingAndGlyphs">300</text>
<text x="256.40" y="227.40" font-size="10.2" fill="#2e2e2e" stroke="#2e2e2e" stroke-width="0.42" textLength="33.2" lengthAdjust="spacingAndGlyphs">Time (sec)</text>
<text x="245.10" y="152.70" font-size="8" font-weight="bold" fill="#0a0a0a" stroke="#0a0a0a" stroke-width="0.12" textLength="35.7" lengthAdjust="spacingAndGlyphs">ACP 1 µM</text>
<polygon points="333.9,200.4 334.8,200.4 336.0,200.4 337.4,200.3 338.5,200.2 339.3,200.1 340.0,200.1 340.7,199.9 341.5,199.3 342.6,198.2 343.9,196.8 345.2,195.3 346.4,194.0 347.4,192.9 348.4,192.0 349.3,191.1 350.2,190.2 351.1,189.4 352.1,188.6 353.0,187.8 354.0,187.0 355.0,186.2 356.0,185.3 357.0,184.5 358.0,183.7 359.0,182.9 360.0,182.2 361.0,181.5 362.0,180.8 363.0,180.0 364.0,179.3 365.0,178.5 366.0,177.8 367.0,177.1 368.0,176.5 369.0,175.8 370.0,175.2 371.0,174.6 372.0,174.0 373.0,173.4 374.0,172.8 375.0,172.3 376.0,171.8 377.0,171.3 378.0,170.8 379.0,170.3 380.0,169.8 381.0,169.4 382.0,168.9 383.0,168.5 384.0,168.0 385.0,167.6 386.0,167.2 387.0,166.8 388.0,166.4 389.0,166.1 390.0,165.7 391.0,165.4 392.0,165.0 393.0,164.7 394.0,164.4 395.0,164.1 396.0,163.8 397.0,163.5 398.0,163.2 399.0,162.9 400.1,162.6 401.1,162.4 402.0,162.1 402.9,161.8 403.9,161.6 404.6,161.4 405.2,161.2 405.2,165.6 404.6,165.8 403.9,166.0 402.9,166.2 402.0,166.5 401.1,166.8 400.1,167.0 399.0,167.3 398.0,167.6 397.0,167.9 396.0,168.2 395.0,168.5 394.0,168.8 393.0,169.1 392.0,169.4 391.0,169.8 390.0,170.1 389.0,170.5 388.0,170.8 387.0,171.2 386.0,171.6 385.0,172.0 384.0,172.4 383.0,172.9 382.0,173.3 381.0,173.8 380.0,174.2 379.0,174.7 378.0,175.2 377.0,175.7 376.0,176.2 375.0,176.7 374.0,177.2 373.0,177.8 372.0,178.4 371.0,179.0 370.0,179.6 369.0,180.2 368.0,180.9 367.0,181.5 366.0,182.2 365.0,182.9 364.0,183.7 363.0,184.4 362.0,185.2 361.0,185.9 360.0,186.6 359.0,187.3 358.0,188.1 357.0,188.9 356.0,189.7 355.0,190.6 354.0,191.4 353.0,192.2 352.1,193.0 351.1,193.8 350.2,194.6 349.2,195.4 348.3,196.2 347.3,197.0 346.4,197.8 345.4,198.6 344.4,199.5 343.5,200.0 342.7,200.0 342.2,200.0 341.9,200.0 341.5,200.0 340.7,200.0 339.2,200.0 337.2,200.0 335.2,200.0 333.9,200.0" fill="#b8badb"/>
<polyline points="333.9,200.4 335.2,200.4 337.2,200.4 339.2,200.4 340.7,200.3 341.5,200.2 341.9,200.1 342.2,199.9 342.7,199.5 343.5,198.9 344.4,198.1 345.4,197.2 346.4,196.4 347.3,195.6 348.3,194.8 349.2,194.0 350.2,193.2 351.1,192.4 352.1,191.6 353.0,190.8 354.0,190.0 355.0,189.2 356.0,188.3 357.0,187.5 358.0,186.7 359.0,185.9 360.0,185.2 361.0,184.5 362.0,183.8 363.0,183.0 364.0,182.3 365.0,181.5 366.0,180.8 367.0,180.1 368.0,179.5 369.0,178.8 370.0,178.2 371.0,177.6 372.0,177.0 373.0,176.4 374.0,175.8 375.0,175.3 376.0,174.8 377.0,174.3 378.0,173.8 379.0,173.3 380.0,172.8 381.0,172.4 382.0,171.9 383.0,171.5 384.0,171.0 385.0,170.6 386.0,170.2 387.0,169.8 388.0,169.4 389.0,169.1 390.0,168.7 391.0,168.4 392.0,168.0 393.0,167.7 394.0,167.4 395.0,167.1 396.0,166.8 397.0,166.5 398.0,166.2 399.0,165.9 400.1,165.6 401.1,165.4 402.0,165.1 402.9,164.8 403.9,164.6 404.6,164.4 405.2,164.2" fill="none" stroke="#50568a" stroke-width="2.0" stroke-linejoin="round"/>
<path d="M333.90 145.40V203.60M330.90 200.60H407.60" stroke="#000" stroke-width="1.5" fill="none"/>
<path d="M330.90 190.16H333.90M330.90 179.72H333.90M330.90 169.28H333.90M330.90 158.84H333.90M330.90 148.40H333.90M348.04 200.60V203.60M362.18 200.60V203.60M376.32 200.60V203.60M390.46 200.60V203.60M404.60 200.60V203.60" stroke="#000" stroke-width="1.2" fill="none"/>
<text x="327.60" y="203.50" font-size="8.5" fill="#2e2e2e" stroke="#2e2e2e" stroke-width="0.12" text-anchor="end">0</text>
<text x="327.60" y="193.06" font-size="8.5" fill="#2e2e2e" stroke="#2e2e2e" stroke-width="0.12" text-anchor="end">0.1</text>
<text x="327.60" y="182.62" font-size="8.5" fill="#2e2e2e" stroke="#2e2e2e" stroke-width="0.12" text-anchor="end">0.2</text>
<text x="327.60" y="172.18" font-size="8.5" fill="#2e2e2e" stroke="#2e2e2e" stroke-width="0.12" text-anchor="end">0.3</text>
<text x="327.60" y="161.74" font-size="8.5" fill="#2e2e2e" stroke="#2e2e2e" stroke-width="0.12" text-anchor="end">0.4</text>
<text x="327.60" y="151.30" font-size="8.5" fill="#2e2e2e" stroke="#2e2e2e" stroke-width="0.12" text-anchor="end">0.5</text>
<text x="333.90" y="214.00" font-size="8.7" fill="#2e2e2e" stroke="#2e2e2e" stroke-width="0.12" text-anchor="middle" textLength="4.50" lengthAdjust="spacingAndGlyphs">0</text>
<text x="348.04" y="214.00" font-size="8.7" fill="#2e2e2e" stroke="#2e2e2e" stroke-width="0.12" text-anchor="middle" textLength="9.00" lengthAdjust="spacingAndGlyphs">60</text>
<text x="362.18" y="214.00" font-size="8.7" fill="#2e2e2e" stroke="#2e2e2e" stroke-width="0.12" text-anchor="middle" textLength="13.50" lengthAdjust="spacingAndGlyphs">120</text>
<text x="376.32" y="214.00" font-size="8.7" fill="#2e2e2e" stroke="#2e2e2e" stroke-width="0.12" text-anchor="middle" textLength="13.50" lengthAdjust="spacingAndGlyphs">180</text>
<text x="390.46" y="214.00" font-size="8.7" fill="#2e2e2e" stroke="#2e2e2e" stroke-width="0.12" text-anchor="middle" textLength="13.50" lengthAdjust="spacingAndGlyphs">240</text>
<text x="404.60" y="214.00" font-size="8.7" fill="#2e2e2e" stroke="#2e2e2e" stroke-width="0.12" text-anchor="middle" textLength="13.50" lengthAdjust="spacingAndGlyphs">300</text>
<text x="354.35" y="227.40" font-size="10.2" fill="#2e2e2e" stroke="#2e2e2e" stroke-width="0.42" textLength="33.2" lengthAdjust="spacingAndGlyphs">Time (sec)</text>
<text x="341.10" y="152.70" font-size="8" font-weight="bold" fill="#0a0a0a" stroke="#0a0a0a" stroke-width="0.12" textLength="36.6" lengthAdjust="spacingAndGlyphs">ACP 2 µM</text>
<text transform="translate(14.90 172.40) rotate(-90)" font-size="9" fill="#2e2e2e" stroke="#2e2e2e" stroke-width="0.3" text-anchor="middle" textLength="56.5" lengthAdjust="spacingAndGlyphs">Platelet coverage</text>
<polygon points="37.6,329.6 38.6,329.6 40.1,329.6 41.6,329.6 43.0,329.5 44.0,329.4 44.9,329.3 45.8,329.2 46.8,328.9 47.9,328.5 49.1,327.9 50.3,327.4 51.4,326.8 52.4,326.3 53.3,325.7 54.3,325.2 55.2,324.6 56.2,324.0 57.1,323.4 58.1,322.8 59.1,322.2 60.1,321.6 61.0,320.9 61.9,320.3 62.9,319.6 63.9,318.9 64.8,318.2 65.8,317.5 66.8,316.8 67.8,316.0 68.7,315.3 69.6,314.5 70.6,313.7 71.6,312.9 72.5,312.1 73.5,311.4 74.5,310.6 75.5,309.9 76.4,309.1 77.3,308.4 78.3,307.7 79.3,307.0 80.2,306.3 81.2,305.6 82.2,304.9 83.2,304.2 84.1,303.5 85.1,302.7 86.0,302.0 86.9,301.3 87.9,300.5 88.8,299.8 89.8,299.1 90.8,298.4 91.7,297.7 92.7,297.1 93.7,296.4 94.7,295.7 95.6,295.0 96.5,294.4 97.5,293.7 98.5,293.0 99.4,292.4 100.4,291.7 101.4,291.0 102.4,290.3 103.3,289.7 104.2,289.0 105.2,288.3 106.3,287.4 107.4,286.3 108.5,285.3 109.2,284.6 109.2,299.2 108.5,299.5 107.4,300.0 106.3,300.6 105.2,301.1 104.2,301.6 103.3,302.0 102.4,302.5 101.4,303.0 100.4,303.5 99.4,304.0 98.5,304.6 97.5,305.1 96.5,305.7 95.6,306.2 94.7,306.8 93.7,307.4 92.7,308.0 91.7,308.6 90.8,309.3 89.8,309.9 88.8,310.5 87.9,311.1 86.9,311.6 86.0,312.2 85.1,312.8 84.1,313.4 83.2,314.0 82.2,314.5 81.2,315.0 80.2,315.5 79.3,315.9 78.3,316.4 77.3,316.9 76.4,317.4 75.5,317.9 74.5,318.4 73.5,318.9 72.5,319.4 71.6,319.8 70.6,320.3 69.6,320.8 68.7,321.2 67.8,321.7 66.8,322.1 65.8,322.5 64.8,322.9 63.9,323.2 62.9,323.6 61.9,323.9 61.0,324.2 60.1,324.6 59.1,324.9 58.1,325.3 57.1,325.6 56.2,326.0 55.2,326.4 54.2,326.8 53.3,327.2 52.4,327.6 51.4,327.9 50.4,328.2 49.4,328.5 48.4,328.8 47.5,329.0 46.8,329.2 46.2,329.3 45.5,329.4 44.5,329.5 42.9,329.5 40.9,329.5 38.9,329.5 37.6,329.5" fill="#d38f84"/>
<polyline points="37.6,329.6 38.9,329.6 40.9,329.6 42.9,329.6 44.5,329.5 45.5,329.4 46.2,329.3 46.8,329.2 47.5,329.0 48.4,328.8 49.4,328.5 50.4,328.2 51.4,327.9 52.4,327.6 53.3,327.2 54.2,326.8 55.2,326.4 56.2,326.0 57.1,325.6 58.1,325.3 59.1,324.9 60.1,324.6 61.0,324.2 61.9,323.9 62.9,323.6 63.9,323.2 64.8,322.9 65.8,322.5 66.8,322.1 67.8,321.7 68.7,321.2 69.6,320.8 70.6,320.3 71.6,319.8 72.5,319.4 73.5,318.9 74.5,318.4 75.5,317.9 76.4,317.4 77.3,316.9 78.3,316.4 79.3,315.9 80.2,315.5 81.2,315.0 82.2,314.5 83.2,314.0 84.1,313.4 85.1,312.8 86.0,312.2 86.9,311.6 87.9,311.1 88.8,310.5 89.8,309.9 90.8,309.3 91.7,308.6 92.7,308.0 93.7,307.4 94.7,306.8 95.6,306.2 96.5,305.7 97.5,305.1 98.5,304.6 99.4,304.0 100.4,303.5 101.4,303.0 102.4,302.5 103.3,302.0 104.2,301.6 105.2,301.1 106.3,300.6 107.4,300.0 108.5,299.5 109.2,299.2" fill="none" stroke="#d9485f" stroke-width="3.3" stroke-linejoin="round" opacity="0.5"/>
<polyline points="37.6,329.6 38.9,329.6 40.9,329.6 42.9,329.6 44.5,329.5 45.5,329.4 46.2,329.3 46.8,329.2 47.5,329.0 48.4,328.8 49.4,328.5 50.4,328.2 51.4,327.9 52.4,327.6 53.3,327.2 54.2,326.8 55.2,326.4 56.2,326.0 57.1,325.6 58.1,325.3 59.1,324.9 60.1,324.6 61.0,324.2 61.9,323.9 62.9,323.6 63.9,323.2 64.8,322.9 65.8,322.5 66.8,322.1 67.8,321.7 68.7,321.2 69.6,320.8 70.6,320.3 71.6,319.8 72.5,319.4 73.5,318.9 74.5,318.4 75.5,317.9 76.4,317.4 77.3,316.9 78.3,316.4 79.3,315.9 80.2,315.5 81.2,315.0 82.2,314.5 83.2,314.0 84.1,313.4 85.1,312.8 86.0,312.2 86.9,311.6 87.9,311.1 88.8,310.5 89.8,309.9 90.8,309.3 91.7,308.6 92.7,308.0 93.7,307.4 94.7,306.8 95.6,306.2 96.5,305.7 97.5,305.1 98.5,304.6 99.4,304.0 100.4,303.5 101.4,303.0 102.4,302.5 103.3,302.0 104.2,301.6 105.2,301.1 106.3,300.6 107.4,300.0 108.5,299.5 109.2,299.2" fill="none" stroke="#a30d2d" stroke-width="2.4" stroke-linejoin="round"/>
<path d="M37.60 276.90V333.10M34.60 330.10H111.80" stroke="#000" stroke-width="1.5" fill="none"/>
<path d="M34.60 320.06H37.60M34.60 310.02H37.60M34.60 299.98H37.60M34.60 289.94H37.60M34.60 279.90H37.60M51.84 330.10V333.10M66.08 330.10V333.10M80.32 330.10V333.10M94.56 330.10V333.10M108.80 330.10V333.10" stroke="#000" stroke-width="1.2" fill="none"/>
<text x="31.30" y="333.00" font-size="8.5" fill="#2e2e2e" stroke="#2e2e2e" stroke-width="0.12" text-anchor="end">0</text>
<text x="31.30" y="322.96" font-size="8.5" fill="#2e2e2e" stroke="#2e2e2e" stroke-width="0.12" text-anchor="end">0.1</text>
<text x="31.30" y="312.92" font-size="8.5" fill="#2e2e2e" stroke="#2e2e2e" stroke-width="0.12" text-anchor="end">0.2</text>
<text x="31.30" y="302.88" font-size="8.5" fill="#2e2e2e" stroke="#2e2e2e" stroke-width="0.12" text-anchor="end">0.3</text>
<text x="31.30" y="292.84" font-size="8.5" fill="#2e2e2e" stroke="#2e2e2e" stroke-width="0.12" text-anchor="end">0.4</text>
<text x="31.30" y="282.80" font-size="8.5" fill="#2e2e2e" stroke="#2e2e2e" stroke-width="0.12" text-anchor="end">0.5</text>
<text x="37.60" y="343.50" font-size="8.7" fill="#2e2e2e" stroke="#2e2e2e" stroke-width="0.12" text-anchor="middle" textLength="4.50" lengthAdjust="spacingAndGlyphs">0</text>
<text x="51.84" y="343.50" font-size="8.7" fill="#2e2e2e" stroke="#2e2e2e" stroke-width="0.12" text-anchor="middle" textLength="9.00" lengthAdjust="spacingAndGlyphs">60</text>
<text x="66.08" y="343.50" font-size="8.7" fill="#2e2e2e" stroke="#2e2e2e" stroke-width="0.12" text-anchor="middle" textLength="13.50" lengthAdjust="spacingAndGlyphs">120</text>
<text x="80.32" y="343.50" font-size="8.7" fill="#2e2e2e" stroke="#2e2e2e" stroke-width="0.12" text-anchor="middle" textLength="13.50" lengthAdjust="spacingAndGlyphs">180</text>
<text x="94.56" y="343.50" font-size="8.7" fill="#2e2e2e" stroke="#2e2e2e" stroke-width="0.12" text-anchor="middle" textLength="13.50" lengthAdjust="spacingAndGlyphs">240</text>
<text x="108.80" y="343.50" font-size="8.7" fill="#2e2e2e" stroke="#2e2e2e" stroke-width="0.12" text-anchor="middle" textLength="13.50" lengthAdjust="spacingAndGlyphs">300</text>
<text x="58.30" y="356.90" font-size="10.2" fill="#2e2e2e" stroke="#2e2e2e" stroke-width="0.42" textLength="33.2" lengthAdjust="spacingAndGlyphs">Time (sec)</text>
<text x="44.80" y="285.20" font-size="8" font-weight="bold" fill="#0a0a0a" stroke="#0a0a0a" stroke-width="0.12" textLength="23.6" lengthAdjust="spacingAndGlyphs">DMSO</text>
<polygon points="136.1,329.7 138.0,329.7 140.8,329.7 143.7,329.6 146.0,329.6 147.4,329.5 148.4,329.5 149.2,329.3 150.0,329.2 150.9,329.0 151.8,328.8 152.6,328.6 153.5,328.3 154.4,327.9 155.3,327.5 156.2,327.1 157.1,326.6 158.1,326.2 159.0,325.7 160.0,325.3 161.0,324.8 162.0,324.3 162.9,323.9 163.9,323.4 164.8,322.9 165.7,322.4 166.7,321.9 167.6,321.5 168.6,321.0 169.6,320.5 170.5,320.1 171.5,319.6 172.5,319.1 173.5,318.6 174.4,318.1 175.3,317.6 176.3,317.1 177.3,316.6 178.3,316.1 179.2,315.7 180.2,315.2 181.2,314.7 182.1,314.2 183.1,313.8 184.0,313.3 184.9,312.8 185.9,312.3 186.8,311.9 187.8,311.4 188.8,310.9 189.8,310.5 190.7,310.0 191.7,309.6 192.7,309.2 193.6,308.8 194.5,308.4 195.5,308.0 196.5,307.6 197.4,307.2 198.4,306.9 199.4,306.5 200.3,306.2 201.3,305.8 202.2,305.5 203.2,305.2 204.4,304.9 205.7,304.6 207.0,304.4 207.8,304.2 207.8,314.2 207.0,314.3 205.7,314.6 204.4,314.8 203.2,315.0 202.2,315.2 201.3,315.4 200.3,315.6 199.4,315.8 198.4,316.0 197.4,316.3 196.5,316.5 195.5,316.8 194.5,317.1 193.6,317.3 192.7,317.6 191.7,317.9 190.7,318.2 189.8,318.5 188.8,318.8 187.8,319.1 186.8,319.4 185.9,319.7 184.9,320.1 184.0,320.4 183.1,320.7 182.1,321.1 181.2,321.5 180.2,321.8 179.2,322.1 178.3,322.4 177.3,322.8 176.3,323.1 175.3,323.4 174.4,323.8 173.5,324.1 172.5,324.5 171.5,324.8 170.5,325.2 169.6,325.6 168.6,325.9 167.6,326.3 166.7,326.6 165.7,327.0 164.8,327.3 163.9,327.6 162.9,327.9 162.0,328.2 161.0,328.5 160.0,328.8 159.0,329.1 158.0,329.4 157.1,329.5 156.3,329.5 155.5,329.5 154.7,329.5 154.0,329.5 153.4,329.5 152.8,329.5 152.2,329.5 151.5,329.5 150.9,329.5 150.3,329.5 149.5,329.5 148.0,329.5 145.3,329.5 141.8,329.5 138.4,329.5 136.1,329.5" fill="#d3e3f6"/>
<polyline points="136.1,329.7 138.4,329.7 141.8,329.7 145.3,329.6 148.0,329.6 149.5,329.5 150.3,329.5 150.9,329.4 151.5,329.3 152.2,329.2 152.8,329.1 153.4,328.9 154.0,328.8 154.7,328.7 155.5,328.5 156.3,328.3 157.1,328.1 158.0,327.8 159.0,327.5 160.0,327.2 161.0,326.9 162.0,326.6 162.9,326.3 163.9,326.0 164.8,325.7 165.7,325.4 166.7,325.0 167.6,324.7 168.6,324.3 169.6,323.9 170.5,323.6 171.5,323.2 172.5,322.9 173.5,322.5 174.4,322.2 175.3,321.8 176.3,321.5 177.3,321.2 178.3,320.8 179.2,320.5 180.2,320.2 181.2,319.9 182.1,319.5 183.1,319.1 184.0,318.8 184.9,318.5 185.9,318.1 186.8,317.8 187.8,317.5 188.8,317.2 189.8,316.9 190.7,316.6 191.7,316.3 192.7,316.0 193.6,315.7 194.5,315.5 195.5,315.2 196.5,314.9 197.4,314.7 198.4,314.4 199.4,314.2 200.3,314.0 201.3,313.8 202.2,313.6 203.2,313.4 204.4,313.2 205.7,312.9 207.0,312.7 207.8,312.6" fill="none" stroke="#9bbbe0" stroke-width="2.3" stroke-linejoin="round"/>
<path d="M136.10 278.20V333.10M133.10 330.10H210.40" stroke="#000" stroke-width="1.5" fill="none"/>
<path d="M133.10 320.32H136.10M133.10 310.54H136.10M133.10 300.76H136.10M133.10 290.98H136.10M133.10 281.20H136.10M150.36 330.10V333.10M164.62 330.10V333.10M178.88 330.10V333.10M193.14 330.10V333.10M207.40 330.10V333.10" stroke="#000" stroke-width="1.2" fill="none"/>
<text x="129.80" y="333.00" font-size="8.5" fill="#2e2e2e" stroke="#2e2e2e" stroke-width="0.12" text-anchor="end">0</text>
<text x="129.80" y="323.22" font-size="8.5" fill="#2e2e2e" stroke="#2e2e2e" stroke-width="0.12" text-anchor="end">0.1</text>
<text x="129.80" y="313.44" font-size="8.5" fill="#2e2e2e" stroke="#2e2e2e" stroke-width="0.12" text-anchor="end">0.2</text>
<text x="129.80" y="303.66" font-size="8.5" fill="#2e2e2e" stroke="#2e2e2e" stroke-width="0.12" text-anchor="end">0.3</text>
<text x="129.80" y="293.88" font-size="8.5" fill="#2e2e2e" stroke="#2e2e2e" stroke-width="0.12" text-anchor="end">0.4</text>
<text x="129.80" y="284.10" font-size="8.5" fill="#2e2e2e" stroke="#2e2e2e" stroke-width="0.12" text-anchor="end">0.5</text>
<text x="136.10" y="343.50" font-size="8.7" fill="#2e2e2e" stroke="#2e2e2e" stroke-width="0.12" text-anchor="middle" textLength="4.50" lengthAdjust="spacingAndGlyphs">0</text>
<text x="150.36" y="343.50" font-size="8.7" fill="#2e2e2e" stroke="#2e2e2e" stroke-width="0.12" text-anchor="middle" textLength="9.00" lengthAdjust="spacingAndGlyphs">60</text>
<text x="164.62" y="343.50" font-size="8.7" fill="#2e2e2e" stroke="#2e2e2e" stroke-width="0.12" text-anchor="middle" textLength="13.50" lengthAdjust="spacingAndGlyphs">120</text>
<text x="178.88" y="343.50" font-size="8.7" fill="#2e2e2e" stroke="#2e2e2e" stroke-width="0.12" text-anchor="middle" textLength="13.50" lengthAdjust="spacingAndGlyphs">180</text>
<text x="193.14" y="343.50" font-size="8.7" fill="#2e2e2e" stroke="#2e2e2e" stroke-width="0.12" text-anchor="middle" textLength="13.50" lengthAdjust="spacingAndGlyphs">240</text>
<text x="207.40" y="343.50" font-size="8.7" fill="#2e2e2e" stroke="#2e2e2e" stroke-width="0.12" text-anchor="middle" textLength="13.50" lengthAdjust="spacingAndGlyphs">300</text>
<text x="156.85" y="356.90" font-size="10.2" fill="#2e2e2e" stroke="#2e2e2e" stroke-width="0.42" textLength="33.2" lengthAdjust="spacingAndGlyphs">Time (sec)</text>
<text x="145.70" y="285.20" font-size="8" font-weight="bold" fill="#0a0a0a" stroke="#0a0a0a" stroke-width="0.12" textLength="45.8" lengthAdjust="spacingAndGlyphs">ONO 0.5 µM</text>
<polygon points="234.6,329.7 235.6,329.7 237.1,329.7 238.7,329.6 240.0,329.6 240.8,329.6 241.5,329.5 242.0,329.4 242.8,329.2 243.8,328.8 245.0,328.3 246.3,327.8 247.4,327.2 248.4,326.7 249.3,326.1 250.3,325.5 251.2,325.0 252.2,324.5 253.1,324.0 254.1,323.4 255.1,322.9 256.1,322.3 257.1,321.8 258.0,321.2 259.0,320.6 260.0,320.0 260.9,319.5 261.9,318.9 262.8,318.3 263.7,317.7 264.7,317.0 265.6,316.3 266.6,315.6 267.6,314.9 268.6,314.2 269.5,313.6 270.5,312.9 271.5,312.2 272.4,311.5 273.3,310.9 274.3,310.2 275.3,309.5 276.3,308.8 277.3,308.1 278.2,307.5 279.0,306.9 279.8,306.3 280.5,305.8 281.2,305.4 281.8,305.1 282.4,305.0 282.9,304.9 283.5,304.8 284.0,304.7 284.5,304.6 285.1,304.5 285.8,304.3 286.7,304.1 287.7,303.8 288.7,303.6 289.7,303.3 290.7,303.0 291.6,302.8 292.5,302.5 293.5,302.2 294.5,301.9 295.4,301.6 296.4,301.3 297.4,301.0 298.3,300.7 299.3,300.4 300.2,300.1 301.2,299.8 302.4,299.4 303.7,299.0 305.0,298.6 305.8,298.3 305.8,312.2 305.0,312.4 303.7,312.6 302.4,312.9 301.2,313.1 300.2,313.3 299.3,313.5 298.3,313.7 297.4,313.9 296.4,314.1 295.4,314.3 294.5,314.5 293.5,314.7 292.5,314.9 291.6,315.1 290.7,315.2 289.7,315.4 288.7,315.6 287.8,315.7 286.8,315.9 285.8,316.1 284.8,316.3 283.9,316.5 282.9,316.8 282.0,317.0 281.1,317.2 280.1,317.5 279.2,317.8 278.2,318.1 277.2,318.5 276.3,318.9 275.3,319.4 274.3,319.8 273.3,320.2 272.4,320.7 271.5,321.1 270.5,321.5 269.5,321.9 268.6,322.2 267.6,322.6 266.6,322.9 265.6,323.2 264.7,323.6 263.7,323.9 262.8,324.2 261.9,324.5 260.9,324.9 260.0,325.2 259.0,325.6 258.0,326.0 257.1,326.3 256.1,326.7 255.1,327.0 254.1,327.3 253.1,327.7 252.2,328.0 251.2,328.3 250.2,328.6 249.2,329.0 248.3,329.3 247.4,329.5 246.6,329.5 245.9,329.5 245.2,329.5 244.5,329.5 244.0,329.5 243.5,329.5 243.0,329.5 242.0,329.5 240.3,329.5 238.1,329.5 236.0,329.5 234.6,329.5" fill="#a4c6ee"/>
<polyline points="234.6,329.7 236.0,329.7 238.1,329.7 240.3,329.7 242.0,329.7 243.0,329.6 243.5,329.6 244.0,329.5 244.5,329.3 245.2,329.1 245.9,328.9 246.6,328.6 247.4,328.3 248.3,328.0 249.2,327.7 250.2,327.3 251.2,327.0 252.2,326.7 253.1,326.4 254.1,326.0 255.1,325.7 256.1,325.4 257.1,325.0 258.0,324.7 259.0,324.3 260.0,323.9 260.9,323.6 261.9,323.2 262.8,322.9 263.7,322.6 264.7,322.2 265.6,321.9 266.6,321.6 267.6,321.3 268.6,320.9 269.5,320.6 270.5,320.2 271.5,319.8 272.4,319.4 273.3,318.9 274.3,318.5 275.3,318.1 276.3,317.6 277.2,317.2 278.2,316.8 279.2,316.5 280.1,316.2 281.1,315.9 282.0,315.7 282.9,315.5 283.9,315.2 284.8,315.0 285.8,314.8 286.8,314.6 287.8,314.4 288.7,314.3 289.7,314.1 290.7,313.9 291.6,313.8 292.5,313.6 293.5,313.4 294.5,313.2 295.4,313.0 296.4,312.8 297.4,312.6 298.3,312.4 299.3,312.2 300.2,312.0 301.2,311.8 302.4,311.6 303.7,311.3 305.0,311.1 305.8,310.9" fill="none" stroke="#6f9dd2" stroke-width="2.1" stroke-linejoin="round"/>
<path d="M234.60 276.20V333.10M231.60 330.10H308.80" stroke="#000" stroke-width="1.5" fill="none"/>
<path d="M231.60 319.92H234.60M231.60 309.74H234.60M231.60 299.56H234.60M231.60 289.38H234.60M231.60 279.20H234.60M248.84 330.10V333.10M263.08 330.10V333.10M277.32 330.10V333.10M291.56 330.10V333.10M305.80 330.10V333.10" stroke="#000" stroke-width="1.2" fill="none"/>
<text x="228.30" y="333.00" font-size="8.5" fill="#2e2e2e" stroke="#2e2e2e" stroke-width="0.12" text-anchor="end">0</text>
<text x="228.30" y="322.82" font-size="8.5" fill="#2e2e2e" stroke="#2e2e2e" stroke-width="0.12" text-anchor="end">0.1</text>
<text x="228.30" y="312.64" font-size="8.5" fill="#2e2e2e" stroke="#2e2e2e" stroke-width="0.12" text-anchor="end">0.2</text>
<text x="228.30" y="302.46" font-size="8.5" fill="#2e2e2e" stroke="#2e2e2e" stroke-width="0.12" text-anchor="end">0.3</text>
<text x="228.30" y="292.28" font-size="8.5" fill="#2e2e2e" stroke="#2e2e2e" stroke-width="0.12" text-anchor="end">0.4</text>
<text x="228.30" y="282.10" font-size="8.5" fill="#2e2e2e" stroke="#2e2e2e" stroke-width="0.12" text-anchor="end">0.5</text>
<text x="234.60" y="343.50" font-size="8.7" fill="#2e2e2e" stroke="#2e2e2e" stroke-width="0.12" text-anchor="middle" textLength="4.50" lengthAdjust="spacingAndGlyphs">0</text>
<text x="248.84" y="343.50" font-size="8.7" fill="#2e2e2e" stroke="#2e2e2e" stroke-width="0.12" text-anchor="middle" textLength="9.00" lengthAdjust="spacingAndGlyphs">60</text>
<text x="263.08" y="343.50" font-size="8.7" fill="#2e2e2e" stroke="#2e2e2e" stroke-width="0.12" text-anchor="middle" textLength="13.50" lengthAdjust="spacingAndGlyphs">120</text>
<text x="277.32" y="343.50" font-size="8.7" fill="#2e2e2e" stroke="#2e2e2e" stroke-width="0.12" text-anchor="middle" textLength="13.50" lengthAdjust="spacingAndGlyphs">180</text>
<text x="291.56" y="343.50" font-size="8.7" fill="#2e2e2e" stroke="#2e2e2e" stroke-width="0.12" text-anchor="middle" textLength="13.50" lengthAdjust="spacingAndGlyphs">240</text>
<text x="305.80" y="343.50" font-size="8.7" fill="#2e2e2e" stroke="#2e2e2e" stroke-width="0.12" text-anchor="middle" textLength="13.50" lengthAdjust="spacingAndGlyphs">300</text>
<text x="255.30" y="356.90" font-size="10.2" fill="#2e2e2e" stroke="#2e2e2e" stroke-width="0.42" textLength="33.2" lengthAdjust="spacingAndGlyphs">Time (sec)</text>
<text x="245.10" y="285.20" font-size="8" font-weight="bold" fill="#0a0a0a" stroke="#0a0a0a" stroke-width="0.12" textLength="39.5" lengthAdjust="spacingAndGlyphs">ONO 1 µM</text>
<polygon points="332.7,329.7 333.3,329.7 334.1,329.7 335.1,329.7 336.0,329.7 336.9,329.7 337.9,329.7 338.9,329.6 339.9,329.4 341.0,328.9 342.1,328.3 343.2,327.6 344.3,327.0 345.4,326.4 346.6,325.8 347.7,325.2 348.8,324.6 349.9,324.0 351.0,323.4 352.1,322.8 353.2,322.2 354.3,321.6 355.4,321.0 356.6,320.3 357.7,319.7 358.8,319.1 359.9,318.4 361.0,317.7 362.1,317.0 363.3,316.2 364.4,315.4 365.6,314.6 366.8,313.8 367.9,313.1 369.0,312.5 370.1,311.8 371.2,311.2 372.4,310.5 373.5,309.9 374.7,309.2 375.9,308.5 377.0,307.7 378.1,306.9 379.2,306.1 380.3,305.3 381.4,304.6 382.6,304.0 383.7,303.4 384.8,302.7 385.9,302.0 387.0,301.2 388.1,300.4 389.2,299.6 390.4,298.8 391.6,297.9 392.7,297.1 393.7,296.5 394.4,296.3 395.0,296.3 395.5,296.4 396.0,296.4 396.5,296.3 396.9,296.1 397.4,296.0 398.1,295.8 399.1,295.6 400.3,295.4 401.6,295.2 402.6,295.1 403.4,295.0 404.0,295.0 404.5,294.9 404.8,294.9 404.8,313.0 404.5,313.0 404.0,313.1 403.4,313.1 402.6,313.2 401.6,313.3 400.5,313.5 399.3,313.7 398.1,313.9 397.0,314.1 395.9,314.3 394.8,314.5 393.7,314.8 392.6,315.1 391.4,315.4 390.3,315.7 389.2,316.1 388.1,316.5 387.0,317.0 385.9,317.5 384.8,317.9 383.7,318.3 382.6,318.7 381.4,319.1 380.3,319.5 379.2,319.9 378.1,320.4 377.0,320.8 375.9,321.3 374.7,321.7 373.5,322.2 372.4,322.6 371.2,323.1 370.1,323.6 369.0,324.0 367.9,324.5 366.8,324.9 365.6,325.2 364.4,325.5 363.3,325.8 362.1,326.1 361.0,326.4 359.9,326.7 358.8,326.9 357.7,327.2 356.6,327.5 355.4,327.8 354.3,328.0 353.2,328.3 352.1,328.5 351.0,328.8 349.9,329.0 348.8,329.2 347.7,329.4 346.6,329.5 345.4,329.5 344.3,329.5 343.3,329.5 342.3,329.5 341.2,329.5 339.9,329.5 338.1,329.5 336.0,329.5 334.1,329.5 332.7,329.5" fill="#b8badb"/>
<polyline points="332.7,329.7 334.1,329.7 336.0,329.8 338.1,329.8 339.9,329.7 341.2,329.5 342.3,329.3 343.3,329.0 344.3,328.7 345.4,328.5 346.6,328.2 347.7,328.0 348.8,327.8 349.9,327.6 351.0,327.4 352.1,327.1 353.2,326.9 354.3,326.6 355.4,326.4 356.6,326.1 357.7,325.8 358.8,325.5 359.9,325.3 361.0,325.0 362.1,324.7 363.3,324.4 364.4,324.1 365.6,323.8 366.8,323.5 367.9,323.1 369.0,322.6 370.1,322.2 371.2,321.7 372.4,321.2 373.5,320.8 374.7,320.3 375.9,319.9 377.0,319.4 378.1,319.0 379.2,318.5 380.3,318.1 381.4,317.7 382.6,317.3 383.7,316.9 384.8,316.5 385.9,316.1 387.0,315.6 388.1,315.1 389.2,314.7 390.3,314.3 391.4,314.0 392.6,313.7 393.7,313.4 394.8,313.1 395.9,312.9 397.0,312.7 398.1,312.5 399.3,312.3 400.5,312.1 401.6,311.9 402.6,311.8 403.4,311.7 404.0,311.7 404.5,311.6 404.8,311.6" fill="none" stroke="#50568a" stroke-width="2.0" stroke-linejoin="round"/>
<path d="M332.70 277.00V333.10M329.70 330.10H407.60" stroke="#000" stroke-width="1.5" fill="none"/>
<path d="M329.70 320.08H332.70M329.70 310.06H332.70M329.70 300.04H332.70M329.70 290.02H332.70M329.70 280.00H332.70M347.08 330.10V333.10M361.46 330.10V333.10M375.84 330.10V333.10M390.22 330.10V333.10M404.60 330.10V333.10" stroke="#000" stroke-width="1.2" fill="none"/>
<text x="326.40" y="333.00" font-size="8.5" fill="#2e2e2e" stroke="#2e2e2e" stroke-width="0.12" text-anchor="end">0</text>
<text x="326.40" y="322.98" font-size="8.5" fill="#2e2e2e" stroke="#2e2e2e" stroke-width="0.12" text-anchor="end">0.1</text>
<text x="326.40" y="312.96" font-size="8.5" fill="#2e2e2e" stroke="#2e2e2e" stroke-width="0.12" text-anchor="end">0.2</text>
<text x="326.40" y="302.94" font-size="8.5" fill="#2e2e2e" stroke="#2e2e2e" stroke-width="0.12" text-anchor="end">0.3</text>
<text x="326.40" y="292.92" font-size="8.5" fill="#2e2e2e" stroke="#2e2e2e" stroke-width="0.12" text-anchor="end">0.4</text>
<text x="326.40" y="282.90" font-size="8.5" fill="#2e2e2e" stroke="#2e2e2e" stroke-width="0.12" text-anchor="end">0.5</text>
<text x="332.70" y="343.50" font-size="8.7" fill="#2e2e2e" stroke="#2e2e2e" stroke-width="0.12" text-anchor="middle" textLength="4.50" lengthAdjust="spacingAndGlyphs">0</text>
<text x="347.08" y="343.50" font-size="8.7" fill="#2e2e2e" stroke="#2e2e2e" stroke-width="0.12" text-anchor="middle" textLength="9.00" lengthAdjust="spacingAndGlyphs">60</text>
<text x="361.46" y="343.50" font-size="8.7" fill="#2e2e2e" stroke="#2e2e2e" stroke-width="0.12" text-anchor="middle" textLength="13.50" lengthAdjust="spacingAndGlyphs">120</text>
<text x="375.84" y="343.50" font-size="8.7" fill="#2e2e2e" stroke="#2e2e2e" stroke-width="0.12" text-anchor="middle" textLength="13.50" lengthAdjust="spacingAndGlyphs">180</text>
<text x="390.22" y="343.50" font-size="8.7" fill="#2e2e2e" stroke="#2e2e2e" stroke-width="0.12" text-anchor="middle" textLength="13.50" lengthAdjust="spacingAndGlyphs">240</text>
<text x="404.60" y="343.50" font-size="8.7" fill="#2e2e2e" stroke="#2e2e2e" stroke-width="0.12" text-anchor="middle" textLength="13.50" lengthAdjust="spacingAndGlyphs">300</text>
<text x="353.75" y="356.90" font-size="10.2" fill="#2e2e2e" stroke="#2e2e2e" stroke-width="0.42" textLength="33.2" lengthAdjust="spacingAndGlyphs">Time (sec)</text>
<text x="341.40" y="285.20" font-size="8" font-weight="bold" fill="#0a0a0a" stroke="#0a0a0a" stroke-width="0.12" textLength="38.9" lengthAdjust="spacingAndGlyphs">ONO 2 µM</text>
<polygon points="431.5,329.7 434.9,329.7 439.8,329.6 445.1,329.5 450.0,329.4 454.3,329.2 458.5,328.8 462.5,328.5 466.0,328.2 468.9,327.9 471.4,327.7 473.6,327.5 476.0,327.2 478.5,326.9 481.0,326.5 483.5,326.1 486.0,325.7 488.5,325.3 491.0,324.9 493.5,324.6 496.0,324.2 498.6,323.9 501.4,323.5 503.8,323.2 505.5,323.0 505.5,327.2 503.8,327.3 501.4,327.4 498.6,327.5 496.0,327.6 493.5,327.7 491.0,327.9 488.5,328.0 486.0,328.2 483.5,328.4 481.0,328.5 478.5,328.7 476.0,328.9 473.6,329.1 471.4,329.3 468.9,329.4 466.0,329.5 462.5,329.5 458.5,329.5 454.3,329.5 450.0,329.5 445.1,329.5 439.8,329.5 434.9,329.5 431.5,329.5" fill="#6a7aae"/>
<polyline points="431.5,329.7 434.9,329.7 439.8,329.7 445.1,329.7 450.0,329.6 454.3,329.5 458.5,329.3 462.5,329.2 466.0,329.0 468.9,328.8 471.4,328.7 473.6,328.5 476.0,328.3 478.5,328.1 481.0,327.9 483.5,327.8 486.0,327.6 488.5,327.4 491.0,327.3 493.5,327.1 496.0,327.0 498.6,326.9 501.4,326.8 503.8,326.7 505.5,326.6" fill="none" stroke="#26376a" stroke-width="2.0" stroke-linejoin="round"/>
<path d="M431.50 277.90V333.10M428.50 330.10H508.80" stroke="#000" stroke-width="1.5" fill="none"/>
<path d="M428.50 320.26H431.50M428.50 310.42H431.50M428.50 300.58H431.50M428.50 290.74H431.50M428.50 280.90H431.50M446.36 330.10V333.10M461.22 330.10V333.10M476.08 330.10V333.10M490.94 330.10V333.10M505.80 330.10V333.10" stroke="#000" stroke-width="1.2" fill="none"/>
<text x="425.20" y="333.00" font-size="8.5" fill="#2e2e2e" stroke="#2e2e2e" stroke-width="0.12" text-anchor="end">0</text>
<text x="425.20" y="323.16" font-size="8.5" fill="#2e2e2e" stroke="#2e2e2e" stroke-width="0.12" text-anchor="end">0.1</text>
<text x="425.20" y="313.32" font-size="8.5" fill="#2e2e2e" stroke="#2e2e2e" stroke-width="0.12" text-anchor="end">0.2</text>
<text x="425.20" y="303.48" font-size="8.5" fill="#2e2e2e" stroke="#2e2e2e" stroke-width="0.12" text-anchor="end">0.3</text>
<text x="425.20" y="293.64" font-size="8.5" fill="#2e2e2e" stroke="#2e2e2e" stroke-width="0.12" text-anchor="end">0.4</text>
<text x="425.20" y="283.80" font-size="8.5" fill="#2e2e2e" stroke="#2e2e2e" stroke-width="0.12" text-anchor="end">0.5</text>
<text x="431.50" y="343.50" font-size="8.7" fill="#2e2e2e" stroke="#2e2e2e" stroke-width="0.12" text-anchor="middle" textLength="4.50" lengthAdjust="spacingAndGlyphs">0</text>
<text x="446.36" y="343.50" font-size="8.7" fill="#2e2e2e" stroke="#2e2e2e" stroke-width="0.12" text-anchor="middle" textLength="9.00" lengthAdjust="spacingAndGlyphs">60</text>
<text x="461.22" y="343.50" font-size="8.7" fill="#2e2e2e" stroke="#2e2e2e" stroke-width="0.12" text-anchor="middle" textLength="13.50" lengthAdjust="spacingAndGlyphs">120</text>
<text x="476.08" y="343.50" font-size="8.7" fill="#2e2e2e" stroke="#2e2e2e" stroke-width="0.12" text-anchor="middle" textLength="13.50" lengthAdjust="spacingAndGlyphs">180</text>
<text x="490.94" y="343.50" font-size="8.7" fill="#2e2e2e" stroke="#2e2e2e" stroke-width="0.12" text-anchor="middle" textLength="13.50" lengthAdjust="spacingAndGlyphs">240</text>
<text x="505.80" y="343.50" font-size="8.7" fill="#2e2e2e" stroke="#2e2e2e" stroke-width="0.12" text-anchor="middle" textLength="13.50" lengthAdjust="spacingAndGlyphs">300</text>
<text x="453.75" y="356.90" font-size="10.2" fill="#2e2e2e" stroke="#2e2e2e" stroke-width="0.42" textLength="33.2" lengthAdjust="spacingAndGlyphs">Time (sec)</text>
<text x="438.80" y="285.20" font-size="8" font-weight="bold" fill="#0a0a0a" stroke="#0a0a0a" stroke-width="0.12" textLength="39.5" lengthAdjust="spacingAndGlyphs">ONO 5 µM</text>
<text transform="translate(14.90 303.00) rotate(-90)" font-size="9" fill="#2e2e2e" stroke="#2e2e2e" stroke-width="0.3" text-anchor="middle" textLength="56.5" lengthAdjust="spacingAndGlyphs">Platelet coverage</text>
<polygon points="37.8,435.6 38.9,435.6 40.4,435.6 42.1,435.6 43.5,435.5 44.5,435.5 45.2,435.5 45.9,435.3 46.8,434.8 47.9,433.8 49.1,432.5 50.3,431.0 51.4,429.7 52.4,428.6 53.3,427.5 54.3,426.5 55.2,425.4 56.2,424.3 57.1,423.1 58.1,421.9 59.1,420.8 60.1,419.7 61.0,418.7 61.9,417.6 62.9,416.6 63.9,415.6 64.8,414.6 65.8,413.6 66.8,412.6 67.8,411.6 68.7,410.7 69.6,409.7 70.6,408.8 71.6,407.8 72.5,406.9 73.5,405.9 74.5,405.0 75.5,404.1 76.4,403.2 77.3,402.4 78.3,401.5 79.3,400.7 80.2,399.8 81.2,399.0 82.2,398.2 83.2,397.4 84.1,396.7 85.1,395.9 86.0,395.2 86.9,394.5 87.8,393.9 88.8,393.2 89.8,392.5 91.0,391.7 92.2,390.8 93.4,390.0 94.5,389.4 95.4,389.0 96.1,388.8 96.8,388.6 97.5,388.4 98.2,388.2 99.0,388.0 99.7,387.9 100.6,387.7 101.7,387.6 102.9,387.4 104.1,387.3 105.2,387.2 106.3,387.1 107.4,387.0 108.3,386.9 109.0,386.9 109.0,400.6 108.3,400.8 107.4,401.1 106.3,401.5 105.2,401.8 104.1,402.1 102.9,402.5 101.7,402.8 100.6,403.1 99.7,403.3 99.0,403.6 98.2,403.8 97.5,404.0 96.8,404.3 96.1,404.5 95.4,404.8 94.5,405.2 93.4,405.7 92.2,406.2 91.0,406.8 89.8,407.4 88.8,407.9 87.8,408.4 86.9,408.9 86.0,409.4 85.1,409.9 84.1,410.4 83.2,411.0 82.2,411.5 81.2,412.0 80.2,412.6 79.3,413.1 78.3,413.7 77.3,414.3 76.4,414.9 75.5,415.5 74.5,416.1 73.5,416.7 72.5,417.4 71.6,418.0 70.6,418.7 69.6,419.4 68.7,420.0 67.8,420.7 66.8,421.4 65.8,422.1 64.8,422.8 63.9,423.5 62.9,424.3 61.9,425.1 61.0,425.9 60.1,426.7 59.1,427.5 58.1,428.3 57.1,429.2 56.2,430.1 55.2,430.9 54.2,431.7 53.3,432.5 52.4,433.3 51.4,433.9 50.4,434.4 49.4,434.7 48.4,435.0 47.5,435.2 46.9,435.4 46.5,435.5 45.9,435.5 45.0,435.6 43.4,435.6 41.2,435.6 39.2,435.6 37.8,435.6" fill="#d38f84"/>
<polyline points="37.8,435.6 39.2,435.6 41.2,435.6 43.4,435.6 45.0,435.6 45.9,435.5 46.5,435.5 46.9,435.4 47.5,435.2 48.4,435.0 49.4,434.7 50.4,434.4 51.4,433.9 52.4,433.3 53.3,432.5 54.2,431.7 55.2,430.9 56.2,430.1 57.1,429.2 58.1,428.3 59.1,427.5 60.1,426.7 61.0,425.9 61.9,425.1 62.9,424.3 63.9,423.5 64.8,422.8 65.8,422.1 66.8,421.4 67.8,420.7 68.7,420.0 69.6,419.4 70.6,418.7 71.6,418.0 72.5,417.4 73.5,416.7 74.5,416.1 75.5,415.5 76.4,414.9 77.3,414.3 78.3,413.7 79.3,413.1 80.2,412.6 81.2,412.0 82.2,411.5 83.2,411.0 84.1,410.4 85.1,409.9 86.0,409.4 86.9,408.9 87.8,408.4 88.8,407.9 89.8,407.4 91.0,406.8 92.2,406.2 93.4,405.7 94.5,405.2 95.4,404.8 96.1,404.5 96.8,404.3 97.5,404.0 98.2,403.8 99.0,403.6 99.7,403.3 100.6,403.1 101.7,402.8 102.9,402.5 104.1,402.1 105.2,401.8 106.3,401.5 107.4,401.1 108.3,400.8 109.0,400.6" fill="none" stroke="#d9485f" stroke-width="3.3" stroke-linejoin="round" opacity="0.5"/>
<polyline points="37.8,435.6 39.2,435.6 41.2,435.6 43.4,435.6 45.0,435.6 45.9,435.5 46.5,435.5 46.9,435.4 47.5,435.2 48.4,435.0 49.4,434.7 50.4,434.4 51.4,433.9 52.4,433.3 53.3,432.5 54.2,431.7 55.2,430.9 56.2,430.1 57.1,429.2 58.1,428.3 59.1,427.5 60.1,426.7 61.0,425.9 61.9,425.1 62.9,424.3 63.9,423.5 64.8,422.8 65.8,422.1 66.8,421.4 67.8,420.7 68.7,420.0 69.6,419.4 70.6,418.7 71.6,418.0 72.5,417.4 73.5,416.7 74.5,416.1 75.5,415.5 76.4,414.9 77.3,414.3 78.3,413.7 79.3,413.1 80.2,412.6 81.2,412.0 82.2,411.5 83.2,411.0 84.1,410.4 85.1,409.9 86.0,409.4 86.9,408.9 87.8,408.4 88.8,407.9 89.8,407.4 91.0,406.8 92.2,406.2 93.4,405.7 94.5,405.2 95.4,404.8 96.1,404.5 96.8,404.3 97.5,404.0 98.2,403.8 99.0,403.6 99.7,403.3 100.6,403.1 101.7,402.8 102.9,402.5 104.1,402.1 105.2,401.8 106.3,401.5 107.4,401.1 108.3,400.8 109.0,400.6" fill="none" stroke="#a30d2d" stroke-width="2.4" stroke-linejoin="round"/>
<path d="M37.80 384.20V439.20M34.80 436.20H111.80" stroke="#000" stroke-width="1.5" fill="none"/>
<path d="M34.80 426.40H37.80M34.80 416.60H37.80M34.80 406.80H37.80M34.80 397.00H37.80M34.80 387.20H37.80M52.00 436.20V439.20M66.20 436.20V439.20M80.40 436.20V439.20M94.60 436.20V439.20M108.80 436.20V439.20" stroke="#000" stroke-width="1.2" fill="none"/>
<text x="31.50" y="439.10" font-size="8.5" fill="#2e2e2e" stroke="#2e2e2e" stroke-width="0.12" text-anchor="end">0</text>
<text x="31.50" y="429.30" font-size="8.5" fill="#2e2e2e" stroke="#2e2e2e" stroke-width="0.12" text-anchor="end">0.1</text>
<text x="31.50" y="419.50" font-size="8.5" fill="#2e2e2e" stroke="#2e2e2e" stroke-width="0.12" text-anchor="end">0.2</text>
<text x="31.50" y="409.70" font-size="8.5" fill="#2e2e2e" stroke="#2e2e2e" stroke-width="0.12" text-anchor="end">0.3</text>
<text x="31.50" y="399.90" font-size="8.5" fill="#2e2e2e" stroke="#2e2e2e" stroke-width="0.12" text-anchor="end">0.4</text>
<text x="31.50" y="390.10" font-size="8.5" fill="#2e2e2e" stroke="#2e2e2e" stroke-width="0.12" text-anchor="end">0.5</text>
<text x="37.80" y="449.60" font-size="8.7" fill="#2e2e2e" stroke="#2e2e2e" stroke-width="0.12" text-anchor="middle" textLength="4.50" lengthAdjust="spacingAndGlyphs">0</text>
<text x="52.00" y="449.60" font-size="8.7" fill="#2e2e2e" stroke="#2e2e2e" stroke-width="0.12" text-anchor="middle" textLength="9.00" lengthAdjust="spacingAndGlyphs">60</text>
<text x="66.20" y="449.60" font-size="8.7" fill="#2e2e2e" stroke="#2e2e2e" stroke-width="0.12" text-anchor="middle" textLength="13.50" lengthAdjust="spacingAndGlyphs">120</text>
<text x="80.40" y="449.60" font-size="8.7" fill="#2e2e2e" stroke="#2e2e2e" stroke-width="0.12" text-anchor="middle" textLength="13.50" lengthAdjust="spacingAndGlyphs">180</text>
<text x="94.60" y="449.60" font-size="8.7" fill="#2e2e2e" stroke="#2e2e2e" stroke-width="0.12" text-anchor="middle" textLength="13.50" lengthAdjust="spacingAndGlyphs">240</text>
<text x="108.80" y="449.60" font-size="8.7" fill="#2e2e2e" stroke="#2e2e2e" stroke-width="0.12" text-anchor="middle" textLength="13.50" lengthAdjust="spacingAndGlyphs">300</text>
<text x="58.40" y="463.00" font-size="10.2" fill="#2e2e2e" stroke="#2e2e2e" stroke-width="0.42" textLength="33.2" lengthAdjust="spacingAndGlyphs">Time (sec)</text>
<text x="44.80" y="391.50" font-size="8" font-weight="bold" fill="#0a0a0a" stroke="#0a0a0a" stroke-width="0.12" textLength="23.6" lengthAdjust="spacingAndGlyphs">DMSO</text>
<polygon points="135.8,435.7 136.7,435.7 137.9,435.7 139.3,435.7 140.5,435.6 141.4,435.5 142.2,435.5 143.0,435.3 144.0,434.9 145.3,434.2 146.7,433.2 148.1,432.2 149.4,431.2 150.5,430.3 151.4,429.4 152.3,428.5 153.2,427.6 154.2,426.7 155.1,425.9 156.1,425.0 157.1,424.2 158.1,423.5 159.1,422.7 160.0,422.0 161.0,421.3 162.0,420.6 162.9,419.9 163.9,419.2 164.8,418.6 165.7,417.9 166.7,417.2 167.6,416.5 168.6,415.9 169.6,415.2 170.5,414.6 171.5,413.9 172.5,413.3 173.5,412.7 174.4,412.1 175.3,411.5 176.3,410.9 177.3,410.4 178.3,409.9 179.2,409.4 180.2,408.9 181.2,408.4 182.1,407.9 183.1,407.4 184.0,406.9 184.9,406.5 185.9,406.0 186.8,405.6 187.8,405.2 188.8,404.9 189.8,404.6 190.7,404.3 191.7,404.0 192.7,403.7 193.6,403.5 194.5,403.2 195.5,402.9 196.5,402.5 197.4,402.2 198.4,401.8 199.4,401.5 200.3,401.1 201.2,400.8 202.2,400.4 203.2,400.0 204.4,399.6 205.8,399.1 207.1,398.7 208.0,398.4 208.0,409.5 207.1,409.7 205.8,410.0 204.4,410.3 203.2,410.6 202.2,410.9 201.2,411.2 200.3,411.5 199.4,411.9 198.4,412.2 197.4,412.6 196.5,412.9 195.5,413.3 194.5,413.6 193.6,414.0 192.7,414.3 191.7,414.6 190.7,415.0 189.8,415.4 188.8,415.8 187.8,416.1 186.8,416.4 185.9,416.8 184.9,417.1 184.0,417.4 183.1,417.7 182.1,418.0 181.2,418.3 180.2,418.6 179.2,418.9 178.3,419.2 177.3,419.6 176.3,419.9 175.3,420.2 174.4,420.6 173.5,420.9 172.5,421.3 171.5,421.6 170.5,422.0 169.6,422.5 168.6,422.9 167.6,423.3 166.7,423.7 165.7,424.2 164.8,424.7 163.9,425.2 162.9,425.7 162.0,426.2 161.0,426.7 160.0,427.3 159.1,427.8 158.1,428.4 157.1,429.0 156.1,429.6 155.1,430.2 154.2,430.9 153.2,431.6 152.3,432.3 151.3,433.0 150.4,433.7 149.4,434.4 148.3,435.1 147.0,435.6 145.8,435.6 144.8,435.6 144.1,435.6 143.5,435.6 142.9,435.6 142.0,435.6 140.5,435.6 138.7,435.6 137.0,435.6 135.8,435.6" fill="#d3e3f6"/>
<polyline points="135.8,435.7 137.0,435.7 138.7,435.7 140.5,435.7 142.0,435.7 142.9,435.7 143.5,435.6 144.1,435.5 144.8,435.2 145.8,434.7 147.0,434.1 148.3,433.5 149.4,432.8 150.4,432.1 151.3,431.4 152.3,430.7 153.2,430.0 154.2,429.3 155.1,428.6 156.1,428.0 157.1,427.4 158.1,426.8 159.1,426.2 160.0,425.7 161.0,425.1 162.0,424.6 162.9,424.1 163.9,423.6 164.8,423.1 165.7,422.6 166.7,422.1 167.6,421.7 168.6,421.3 169.6,420.9 170.5,420.4 171.5,420.0 172.5,419.7 173.5,419.3 174.4,419.0 175.3,418.6 176.3,418.3 177.3,418.0 178.3,417.6 179.2,417.3 180.2,417.0 181.2,416.7 182.1,416.4 183.1,416.1 184.0,415.8 184.9,415.5 185.9,415.2 186.8,414.8 187.8,414.5 188.8,414.2 189.8,413.8 190.7,413.4 191.7,413.0 192.7,412.7 193.6,412.4 194.5,412.0 195.5,411.7 196.5,411.3 197.4,411.0 198.4,410.6 199.4,410.3 200.3,409.9 201.2,409.6 202.2,409.3 203.2,409.0 204.4,408.7 205.8,408.4 207.1,408.1 208.0,407.9" fill="none" stroke="#9bbbe0" stroke-width="2.3" stroke-linejoin="round"/>
<path d="M135.80 383.60V439.20M132.80 436.20H210.90" stroke="#000" stroke-width="1.5" fill="none"/>
<path d="M132.80 426.28H135.80M132.80 416.36H135.80M132.80 406.44H135.80M132.80 396.52H135.80M132.80 386.60H135.80M150.22 436.20V439.20M164.64 436.20V439.20M179.06 436.20V439.20M193.48 436.20V439.20M207.90 436.20V439.20" stroke="#000" stroke-width="1.2" fill="none"/>
<text x="129.50" y="439.10" font-size="8.5" fill="#2e2e2e" stroke="#2e2e2e" stroke-width="0.12" text-anchor="end">0</text>
<text x="129.50" y="429.18" font-size="8.5" fill="#2e2e2e" stroke="#2e2e2e" stroke-width="0.12" text-anchor="end">0.1</text>
<text x="129.50" y="419.26" font-size="8.5" fill="#2e2e2e" stroke="#2e2e2e" stroke-width="0.12" text-anchor="end">0.2</text>
<text x="129.50" y="409.34" font-size="8.5" fill="#2e2e2e" stroke="#2e2e2e" stroke-width="0.12" text-anchor="end">0.3</text>
<text x="129.50" y="399.42" font-size="8.5" fill="#2e2e2e" stroke="#2e2e2e" stroke-width="0.12" text-anchor="end">0.4</text>
<text x="129.50" y="389.50" font-size="8.5" fill="#2e2e2e" stroke="#2e2e2e" stroke-width="0.12" text-anchor="end">0.5</text>
<text x="135.80" y="449.60" font-size="8.7" fill="#2e2e2e" stroke="#2e2e2e" stroke-width="0.12" text-anchor="middle" textLength="4.50" lengthAdjust="spacingAndGlyphs">0</text>
<text x="150.22" y="449.60" font-size="8.7" fill="#2e2e2e" stroke="#2e2e2e" stroke-width="0.12" text-anchor="middle" textLength="9.00" lengthAdjust="spacingAndGlyphs">60</text>
<text x="164.64" y="449.60" font-size="8.7" fill="#2e2e2e" stroke="#2e2e2e" stroke-width="0.12" text-anchor="middle" textLength="13.50" lengthAdjust="spacingAndGlyphs">120</text>
<text x="179.06" y="449.60" font-size="8.7" fill="#2e2e2e" stroke="#2e2e2e" stroke-width="0.12" text-anchor="middle" textLength="13.50" lengthAdjust="spacingAndGlyphs">180</text>
<text x="193.48" y="449.60" font-size="8.7" fill="#2e2e2e" stroke="#2e2e2e" stroke-width="0.12" text-anchor="middle" textLength="13.50" lengthAdjust="spacingAndGlyphs">240</text>
<text x="207.90" y="449.60" font-size="8.7" fill="#2e2e2e" stroke="#2e2e2e" stroke-width="0.12" text-anchor="middle" textLength="13.50" lengthAdjust="spacingAndGlyphs">300</text>
<text x="156.95" y="463.00" font-size="10.2" fill="#2e2e2e" stroke="#2e2e2e" stroke-width="0.42" textLength="33.2" lengthAdjust="spacingAndGlyphs">Time (sec)</text>
<text x="145.70" y="391.50" font-size="8" font-weight="bold" fill="#0a0a0a" stroke="#0a0a0a" stroke-width="0.12" textLength="44.9" lengthAdjust="spacingAndGlyphs">ONO 0.5 µM</text>
<polygon points="234.6,435.7 235.6,435.7 237.1,435.7 238.7,435.7 240.0,435.6 241.0,435.5 241.8,435.5 242.6,435.4 243.5,435.1 244.4,434.7 245.4,434.1 246.4,433.5 247.4,432.8 248.4,432.0 249.3,431.1 250.2,430.2 251.2,429.3 252.2,428.4 253.1,427.6 254.1,426.7 255.1,425.8 256.1,424.9 257.1,424.0 258.0,423.2 259.0,422.3 260.0,421.4 260.9,420.6 261.9,419.7 262.8,418.9 263.7,418.1 264.7,417.3 265.6,416.6 266.6,415.8 267.6,415.0 268.6,414.3 269.5,413.5 270.5,412.8 271.5,412.1 272.4,411.4 273.3,410.8 274.3,410.1 275.3,409.4 276.3,408.8 277.2,408.1 278.2,407.4 279.2,406.7 280.1,406.0 281.1,405.4 282.0,404.7 282.9,404.0 283.9,403.4 284.8,402.7 285.8,402.0 286.8,401.3 287.8,400.6 288.7,400.0 289.7,399.3 290.7,398.6 291.6,398.0 292.5,397.3 293.5,396.6 294.5,395.9 295.4,395.2 296.4,394.6 297.4,393.9 298.3,393.3 299.1,392.7 300.1,392.1 301.2,391.2 302.8,389.9 304.6,388.2 306.4,386.7 307.6,385.6 307.6,401.8 306.4,402.4 304.6,403.2 302.8,404.1 301.2,404.8 300.1,405.3 299.1,405.8 298.3,406.2 297.4,406.7 296.4,407.2 295.4,407.7 294.5,408.2 293.5,408.7 292.5,409.2 291.6,409.7 290.7,410.1 289.7,410.6 288.7,411.1 287.8,411.6 286.8,412.0 285.8,412.5 284.8,413.0 283.9,413.4 282.9,413.9 282.0,414.4 281.1,414.9 280.1,415.4 279.2,415.9 278.2,416.4 277.2,416.9 276.3,417.4 275.3,417.8 274.3,418.3 273.3,418.8 272.4,419.2 271.5,419.7 270.5,420.2 269.5,420.7 268.6,421.3 267.6,421.8 266.6,422.4 265.6,423.0 264.7,423.6 263.7,424.2 262.8,424.8 261.9,425.4 260.9,426.1 260.0,426.7 259.0,427.4 258.0,428.1 257.1,428.8 256.1,429.5 255.1,430.2 254.1,430.9 253.1,431.6 252.2,432.2 251.2,432.9 250.2,433.6 249.2,434.3 248.3,435.0 247.4,435.6 246.6,435.6 245.8,435.6 245.0,435.6 244.3,435.6 243.7,435.6 243.1,435.6 242.5,435.6 241.5,435.6 239.9,435.6 237.9,435.6 235.9,435.6 234.6,435.6" fill="#a4c6ee"/>
<polyline points="234.6,435.7 235.9,435.7 237.9,435.7 239.9,435.7 241.5,435.7 242.5,435.7 243.1,435.7 243.7,435.6 244.3,435.5 245.0,435.3 245.8,435.1 246.6,434.7 247.4,434.3 248.3,433.7 249.2,433.0 250.2,432.3 251.2,431.6 252.2,430.9 253.1,430.3 254.1,429.6 255.1,428.9 256.1,428.2 257.1,427.5 258.0,426.8 259.0,426.1 260.0,425.4 260.9,424.8 261.9,424.1 262.8,423.5 263.7,422.9 264.7,422.3 265.6,421.7 266.6,421.1 267.6,420.5 268.6,420.0 269.5,419.4 270.5,418.9 271.5,418.4 272.4,417.9 273.3,417.5 274.3,417.0 275.3,416.5 276.3,416.1 277.2,415.6 278.2,415.1 279.2,414.6 280.1,414.1 281.1,413.6 282.0,413.1 282.9,412.6 283.9,412.1 284.8,411.7 285.8,411.2 286.8,410.7 287.8,410.2 288.7,409.8 289.7,409.3 290.7,408.8 291.6,408.4 292.5,407.9 293.5,407.4 294.5,406.9 295.4,406.4 296.4,405.9 297.4,405.4 298.3,404.9 299.1,404.5 300.1,404.0 301.2,403.5 302.8,402.8 304.6,401.9 306.4,401.1 307.6,400.5" fill="none" stroke="#6f9dd2" stroke-width="2.1" stroke-linejoin="round"/>
<path d="M234.60 383.60V439.20M231.60 436.20H310.50" stroke="#000" stroke-width="1.5" fill="none"/>
<path d="M231.60 426.28H234.60M231.60 416.36H234.60M231.60 406.44H234.60M231.60 396.52H234.60M231.60 386.60H234.60M249.18 436.20V439.20M263.76 436.20V439.20M278.34 436.20V439.20M292.92 436.20V439.20M307.50 436.20V439.20" stroke="#000" stroke-width="1.2" fill="none"/>
<text x="228.30" y="439.10" font-size="8.5" fill="#2e2e2e" stroke="#2e2e2e" stroke-width="0.12" text-anchor="end">0</text>
<text x="228.30" y="429.18" font-size="8.5" fill="#2e2e2e" stroke="#2e2e2e" stroke-width="0.12" text-anchor="end">0.1</text>
<text x="228.30" y="419.26" font-size="8.5" fill="#2e2e2e" stroke="#2e2e2e" stroke-width="0.12" text-anchor="end">0.2</text>
<text x="228.30" y="409.34" font-size="8.5" fill="#2e2e2e" stroke="#2e2e2e" stroke-width="0.12" text-anchor="end">0.3</text>
<text x="228.30" y="399.42" font-size="8.5" fill="#2e2e2e" stroke="#2e2e2e" stroke-width="0.12" text-anchor="end">0.4</text>
<text x="228.30" y="389.50" font-size="8.5" fill="#2e2e2e" stroke="#2e2e2e" stroke-width="0.12" text-anchor="end">0.5</text>
<text x="234.60" y="449.60" font-size="8.7" fill="#2e2e2e" stroke="#2e2e2e" stroke-width="0.12" text-anchor="middle" textLength="4.50" lengthAdjust="spacingAndGlyphs">0</text>
<text x="249.18" y="449.60" font-size="8.7" fill="#2e2e2e" stroke="#2e2e2e" stroke-width="0.12" text-anchor="middle" textLength="9.00" lengthAdjust="spacingAndGlyphs">60</text>
<text x="263.76" y="449.60" font-size="8.7" fill="#2e2e2e" stroke="#2e2e2e" stroke-width="0.12" text-anchor="middle" textLength="13.50" lengthAdjust="spacingAndGlyphs">120</text>
<text x="278.34" y="449.60" font-size="8.7" fill="#2e2e2e" stroke="#2e2e2e" stroke-width="0.12" text-anchor="middle" textLength="13.50" lengthAdjust="spacingAndGlyphs">180</text>
<text x="292.92" y="449.60" font-size="8.7" fill="#2e2e2e" stroke="#2e2e2e" stroke-width="0.12" text-anchor="middle" textLength="13.50" lengthAdjust="spacingAndGlyphs">240</text>
<text x="307.50" y="449.60" font-size="8.7" fill="#2e2e2e" stroke="#2e2e2e" stroke-width="0.12" text-anchor="middle" textLength="13.50" lengthAdjust="spacingAndGlyphs">300</text>
<text x="256.15" y="463.00" font-size="10.2" fill="#2e2e2e" stroke="#2e2e2e" stroke-width="0.42" textLength="33.2" lengthAdjust="spacingAndGlyphs">Time (sec)</text>
<text x="245.10" y="391.50" font-size="8" font-weight="bold" fill="#0a0a0a" stroke="#0a0a0a" stroke-width="0.12" textLength="39.5" lengthAdjust="spacingAndGlyphs">ONO 1 µM</text>
<polygon points="334.4,435.7 335.7,435.7 337.5,435.6 339.4,435.6 341.0,435.5 342.1,435.4 342.9,435.3 343.6,435.1 344.3,434.9 345.1,434.4 345.8,433.9 346.6,433.3 347.4,432.7 348.3,431.9 349.2,431.0 350.2,430.1 351.2,429.2 352.2,428.3 353.1,427.4 354.1,426.5 355.1,425.7 356.1,424.9 357.1,424.1 358.0,423.3 359.0,422.6 360.0,422.0 360.9,421.4 361.9,420.8 362.8,420.3 363.7,419.7 364.7,419.2 365.6,418.6 366.6,418.1 367.6,417.5 368.6,416.8 369.5,416.2 370.5,415.5 371.5,414.9 372.4,414.3 373.3,413.7 374.3,413.0 375.3,412.4 376.3,411.7 377.2,411.1 378.2,410.5 379.2,410.0 380.1,409.5 381.1,409.0 382.0,408.5 382.9,408.0 383.9,407.5 384.8,407.1 385.8,406.6 386.8,406.1 387.8,405.7 388.7,405.2 389.7,404.7 390.7,404.2 391.6,403.8 392.5,403.3 393.5,402.8 394.5,402.3 395.5,401.9 396.4,401.4 397.4,400.9 398.3,400.4 399.3,400.0 400.2,399.5 401.2,398.9 402.4,398.1 403.6,397.1 404.8,396.1 405.6,395.5 405.6,412.1 404.8,412.3 403.6,412.7 402.4,413.1 401.2,413.4 400.2,413.7 399.3,414.0 398.3,414.2 397.4,414.5 396.4,414.8 395.5,415.1 394.5,415.4 393.5,415.7 392.5,416.0 391.6,416.2 390.7,416.5 389.7,416.8 388.7,417.1 387.8,417.4 386.8,417.7 385.8,418.0 384.8,418.4 383.9,418.7 382.9,419.1 382.0,419.5 381.1,419.9 380.1,420.3 379.2,420.7 378.2,421.1 377.2,421.5 376.3,421.9 375.3,422.4 374.3,422.8 373.3,423.2 372.4,423.7 371.5,424.1 370.5,424.6 369.5,425.1 368.6,425.6 367.6,426.1 366.6,426.6 365.6,427.1 364.7,427.6 363.7,428.2 362.8,428.7 361.9,429.2 360.9,429.7 360.0,430.2 359.0,430.7 358.0,431.2 357.1,431.7 356.1,432.1 355.1,432.6 354.1,433.1 353.1,433.6 352.2,434.0 351.2,434.5 350.2,435.0 349.2,435.5 348.2,435.6 347.4,435.6 346.7,435.6 346.1,435.6 345.6,435.6 345.0,435.6 344.5,435.6 344.1,435.6 343.5,435.6 342.5,435.6 340.7,435.6 338.3,435.6 336.0,435.6 334.4,435.6" fill="#b8badb"/>
<polyline points="334.4,435.7 336.0,435.7 338.3,435.7 340.7,435.7 342.5,435.7 343.5,435.7 344.1,435.6 344.5,435.6 345.0,435.5 345.6,435.4 346.1,435.3 346.7,435.1 347.4,434.9 348.2,434.5 349.2,434.1 350.2,433.6 351.2,433.1 352.2,432.6 353.1,432.2 354.1,431.7 355.1,431.2 356.1,430.7 357.1,430.3 358.0,429.8 359.0,429.3 360.0,428.8 360.9,428.3 361.9,427.8 362.8,427.3 363.7,426.8 364.7,426.2 365.6,425.7 366.6,425.2 367.6,424.7 368.6,424.2 369.5,423.7 370.5,423.2 371.5,422.7 372.4,422.3 373.3,421.8 374.3,421.4 375.3,421.0 376.3,420.5 377.2,420.1 378.2,419.7 379.2,419.3 380.1,418.9 381.1,418.5 382.0,418.1 382.9,417.7 383.9,417.3 384.8,417.0 385.8,416.6 386.8,416.3 387.8,416.0 388.7,415.7 389.7,415.4 390.7,415.1 391.6,414.9 392.5,414.6 393.5,414.3 394.5,414.0 395.5,413.7 396.4,413.4 397.4,413.1 398.3,412.8 399.3,412.6 400.2,412.3 401.2,412.0 402.4,411.7 403.6,411.3 404.8,410.9 405.6,410.7" fill="none" stroke="#50568a" stroke-width="2.0" stroke-linejoin="round"/>
<path d="M334.40 383.60V439.20M331.40 436.20H408.60" stroke="#000" stroke-width="1.5" fill="none"/>
<path d="M331.40 426.28H334.40M331.40 416.36H334.40M331.40 406.44H334.40M331.40 396.52H334.40M331.40 386.60H334.40M348.64 436.20V439.20M362.88 436.20V439.20M377.12 436.20V439.20M391.36 436.20V439.20M405.60 436.20V439.20" stroke="#000" stroke-width="1.2" fill="none"/>
<text x="328.10" y="439.10" font-size="8.5" fill="#2e2e2e" stroke="#2e2e2e" stroke-width="0.12" text-anchor="end">0</text>
<text x="328.10" y="429.18" font-size="8.5" fill="#2e2e2e" stroke="#2e2e2e" stroke-width="0.12" text-anchor="end">0.1</text>
<text x="328.10" y="419.26" font-size="8.5" fill="#2e2e2e" stroke="#2e2e2e" stroke-width="0.12" text-anchor="end">0.2</text>
<text x="328.10" y="409.34" font-size="8.5" fill="#2e2e2e" stroke="#2e2e2e" stroke-width="0.12" text-anchor="end">0.3</text>
<text x="328.10" y="399.42" font-size="8.5" fill="#2e2e2e" stroke="#2e2e2e" stroke-width="0.12" text-anchor="end">0.4</text>
<text x="328.10" y="389.50" font-size="8.5" fill="#2e2e2e" stroke="#2e2e2e" stroke-width="0.12" text-anchor="end">0.5</text>
<text x="334.40" y="449.60" font-size="8.7" fill="#2e2e2e" stroke="#2e2e2e" stroke-width="0.12" text-anchor="middle" textLength="4.50" lengthAdjust="spacingAndGlyphs">0</text>
<text x="348.64" y="449.60" font-size="8.7" fill="#2e2e2e" stroke="#2e2e2e" stroke-width="0.12" text-anchor="middle" textLength="9.00" lengthAdjust="spacingAndGlyphs">60</text>
<text x="362.88" y="449.60" font-size="8.7" fill="#2e2e2e" stroke="#2e2e2e" stroke-width="0.12" text-anchor="middle" textLength="13.50" lengthAdjust="spacingAndGlyphs">120</text>
<text x="377.12" y="449.60" font-size="8.7" fill="#2e2e2e" stroke="#2e2e2e" stroke-width="0.12" text-anchor="middle" textLength="13.50" lengthAdjust="spacingAndGlyphs">180</text>
<text x="391.36" y="449.60" font-size="8.7" fill="#2e2e2e" stroke="#2e2e2e" stroke-width="0.12" text-anchor="middle" textLength="13.50" lengthAdjust="spacingAndGlyphs">240</text>
<text x="405.60" y="449.60" font-size="8.7" fill="#2e2e2e" stroke="#2e2e2e" stroke-width="0.12" text-anchor="middle" textLength="13.50" lengthAdjust="spacingAndGlyphs">300</text>
<text x="355.10" y="463.00" font-size="10.2" fill="#2e2e2e" stroke="#2e2e2e" stroke-width="0.42" textLength="33.2" lengthAdjust="spacingAndGlyphs">Time (sec)</text>
<text x="341.40" y="391.50" font-size="8" font-weight="bold" fill="#0a0a0a" stroke="#0a0a0a" stroke-width="0.12" textLength="38.9" lengthAdjust="spacingAndGlyphs">ONO 2 µM</text>
<polygon points="432.5,435.7 434.7,435.7 438.0,435.7 441.4,435.6 444.0,435.6 445.5,435.5 446.5,435.5 447.2,435.4 448.0,435.2 449.0,434.9 450.1,434.5 451.1,434.1 452.1,433.6 453.1,433.1 454.1,432.5 455.1,431.9 456.1,431.2 457.1,430.6 458.0,429.9 459.0,429.1 460.0,428.2 461.2,427.0 462.4,425.6 463.7,424.1 465.0,422.6 466.3,421.3 467.5,420.0 468.8,418.6 470.0,417.0 471.2,415.1 472.3,413.0 473.4,410.9 474.5,409.0 475.7,407.3 476.9,405.7 478.1,404.2 479.3,402.8 480.5,401.4 481.8,400.2 483.0,398.9 484.2,397.7 485.3,396.5 486.4,395.2 487.4,394.1 488.5,393.0 489.6,392.0 490.6,391.2 491.7,390.3 492.7,389.5 493.7,388.6 494.8,387.8 495.8,387.0 496.9,386.2 498.0,385.5 499.0,384.8 500.1,384.1 501.2,383.6 502.4,383.2 503.6,382.9 504.7,382.6 505.5,382.4 506.0,382.3 506.3,382.2 506.4,382.1 506.5,382.1 506.5,400.0 506.4,400.0 506.3,400.0 506.0,400.1 505.5,400.3 504.7,400.6 503.6,401.0 502.4,401.5 501.2,402.0 500.1,402.5 499.0,403.0 498.0,403.6 496.9,404.1 495.8,404.6 494.8,405.1 493.7,405.6 492.7,406.1 491.7,406.6 490.6,407.1 489.6,407.6 488.5,408.2 487.4,408.8 486.4,409.4 485.3,410.1 484.2,410.9 483.0,411.8 481.8,412.8 480.5,413.8 479.3,414.8 478.1,415.8 476.9,416.9 475.7,418.0 474.5,419.1 473.4,420.3 472.3,421.6 471.2,422.9 470.0,424.1 468.8,425.1 467.5,426.1 466.3,427.0 465.0,427.9 463.7,428.8 462.4,429.7 461.2,430.6 460.0,431.4 459.0,432.1 458.0,432.7 457.1,433.3 456.1,433.8 455.1,434.3 454.1,434.6 453.1,435.0 452.1,435.3 451.3,435.6 450.8,435.6 449.8,435.6 448.0,435.6 444.6,435.6 440.0,435.6 435.6,435.6 432.5,435.6" fill="#6a7aae"/>
<polyline points="432.5,435.7 435.6,435.7 440.0,435.7 444.6,435.7 448.0,435.6 449.8,435.4 450.8,435.2 451.3,435.0 452.1,434.7 453.1,434.4 454.1,434.0 455.1,433.7 456.1,433.2 457.1,432.7 458.0,432.1 459.0,431.5 460.0,430.8 461.2,430.0 462.4,429.1 463.7,428.2 465.0,427.3 466.3,426.4 467.5,425.5 468.8,424.5 470.0,423.5 471.2,422.3 472.3,421.0 473.4,419.7 474.5,418.5 475.7,417.4 476.9,416.3 478.1,415.2 479.3,414.2 480.5,413.2 481.8,412.1 483.0,411.2 484.2,410.3 485.3,409.5 486.4,408.8 487.4,408.2 488.5,407.6 489.6,407.0 490.6,406.5 491.7,406.0 492.7,405.5 493.7,405.0 494.8,404.5 495.8,404.0 496.9,403.5 498.0,403.0 499.0,402.4 500.1,401.9 501.2,401.4 502.4,400.9 503.6,400.4 504.7,400.0 505.5,399.7 506.0,399.5 506.3,399.4 506.4,399.4 506.5,399.4" fill="none" stroke="#26376a" stroke-width="2.0" stroke-linejoin="round"/>
<path d="M432.50 384.40V439.20M429.50 436.20H509.10" stroke="#000" stroke-width="1.5" fill="none"/>
<path d="M429.50 426.44H432.50M429.50 416.68H432.50M429.50 406.92H432.50M429.50 397.16H432.50M429.50 387.40H432.50M447.22 436.20V439.20M461.94 436.20V439.20M476.66 436.20V439.20M491.38 436.20V439.20M506.10 436.20V439.20" stroke="#000" stroke-width="1.2" fill="none"/>
<text x="426.20" y="439.10" font-size="8.5" fill="#2e2e2e" stroke="#2e2e2e" stroke-width="0.12" text-anchor="end">0</text>
<text x="426.20" y="429.34" font-size="8.5" fill="#2e2e2e" stroke="#2e2e2e" stroke-width="0.12" text-anchor="end">0.1</text>
<text x="426.20" y="419.58" font-size="8.5" fill="#2e2e2e" stroke="#2e2e2e" stroke-width="0.12" text-anchor="end">0.2</text>
<text x="426.20" y="409.82" font-size="8.5" fill="#2e2e2e" stroke="#2e2e2e" stroke-width="0.12" text-anchor="end">0.3</text>
<text x="426.20" y="400.06" font-size="8.5" fill="#2e2e2e" stroke="#2e2e2e" stroke-width="0.12" text-anchor="end">0.4</text>
<text x="426.20" y="390.30" font-size="8.5" fill="#2e2e2e" stroke="#2e2e2e" stroke-width="0.12" text-anchor="end">0.5</text>
<text x="432.50" y="449.60" font-size="8.7" fill="#2e2e2e" stroke="#2e2e2e" stroke-width="0.12" text-anchor="middle" textLength="4.50" lengthAdjust="spacingAndGlyphs">0</text>
<text x="447.22" y="449.60" font-size="8.7" fill="#2e2e2e" stroke="#2e2e2e" stroke-width="0.12" text-anchor="middle" textLength="9.00" lengthAdjust="spacingAndGlyphs">60</text>
<text x="461.94" y="449.60" font-size="8.7" fill="#2e2e2e" stroke="#2e2e2e" stroke-width="0.12" text-anchor="middle" textLength="13.50" lengthAdjust="spacingAndGlyphs">120</text>
<text x="476.66" y="449.60" font-size="8.7" fill="#2e2e2e" stroke="#2e2e2e" stroke-width="0.12" text-anchor="middle" textLength="13.50" lengthAdjust="spacingAndGlyphs">180</text>
<text x="491.38" y="449.60" font-size="8.7" fill="#2e2e2e" stroke="#2e2e2e" stroke-width="0.12" text-anchor="middle" textLength="13.50" lengthAdjust="spacingAndGlyphs">240</text>
<text x="506.10" y="449.60" font-size="8.7" fill="#2e2e2e" stroke="#2e2e2e" stroke-width="0.12" text-anchor="middle" textLength="13.50" lengthAdjust="spacingAndGlyphs">300</text>
<text x="454.40" y="463.00" font-size="10.2" fill="#2e2e2e" stroke="#2e2e2e" stroke-width="0.42" textLength="33.2" lengthAdjust="spacingAndGlyphs">Time (sec)</text>
<text x="438.80" y="391.50" font-size="8" font-weight="bold" fill="#0a0a0a" stroke="#0a0a0a" stroke-width="0.12" textLength="39.1" lengthAdjust="spacingAndGlyphs">ONO 5 µM</text>
<text transform="translate(14.40 410.40) rotate(-90)" font-size="9" fill="#2e2e2e" stroke="#2e2e2e" stroke-width="0.3" text-anchor="middle" textLength="56.5" lengthAdjust="spacingAndGlyphs">Platelet coverage</text>
<text x="6.8" y="16.7" font-size="11.6" font-weight="bold" fill="#000" stroke="#000" stroke-width="0.2">A</text>
<text x="37.5" y="17.1" font-size="10.3" font-weight="bold" fill="#000" stroke="#000" stroke-width="0.2" textLength="39.8" lengthAdjust="spacingAndGlyphs">ACP-196</text>
<text x="7.2" y="254.2" font-size="10.8" font-weight="bold" fill="#000" stroke="#000" stroke-width="0.2">B</text>
<text x="37.6" y="255.3" font-size="10.2" font-weight="bold" fill="#000" stroke="#000" stroke-width="0.2" textLength="65.8" lengthAdjust="spacingAndGlyphs">ONO/GS-4059</text>
<text x="171.3" y="28.4" font-size="8.4" font-weight="bold" fill="#000" stroke="#000" stroke-width="0.15" textLength="80.9" lengthAdjust="spacingAndGlyphs">Plaque homogenate</text>
<text x="191.1" y="134.8" font-size="8.4" font-weight="bold" fill="#000" stroke="#000" stroke-width="0.15" textLength="36.3" lengthAdjust="spacingAndGlyphs">Collagen</text>
<text x="229.6" y="265.9" font-size="8.4" font-weight="bold" fill="#000" stroke="#000" stroke-width="0.15" textLength="81.4" lengthAdjust="spacingAndGlyphs">Plaque homogenate</text>
<text x="252.5" y="372.7" font-size="8.4" font-weight="bold" fill="#000" stroke="#000" stroke-width="0.15" textLength="35.7" lengthAdjust="spacingAndGlyphs">Collagen</text>
<circle cx="203.00" cy="61.90" r="1.2" fill="#151515"/>
<circle cx="302.80" cy="64.20" r="1.2" fill="#151515"/>
<circle cx="402.50" cy="77.30" r="1.2" fill="#151515"/>
<circle cx="405.90" cy="77.30" r="1.2" fill="#151515"/>
<circle cx="409.30" cy="77.30" r="1.2" fill="#151515"/>
<circle cx="497.70" cy="313.30" r="1.2" fill="#151515"/>
<circle cx="501.00" cy="313.30" r="1.2" fill="#151515"/>
<circle cx="504.50" cy="313.30" r="1.2" fill="#151515"/>
<path d="M0 0H520V472H0Z M1.2 1.2V470.4H518.2V1.2Z" fill="#000" fill-rule="evenodd"/>
</svg>
</body></html>
